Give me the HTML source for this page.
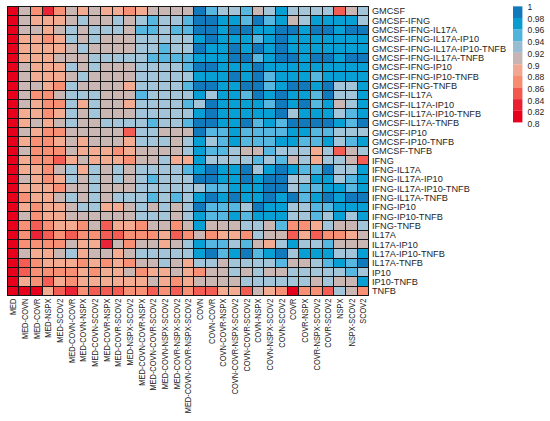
<!DOCTYPE html><html><head><meta charset="utf-8"><style>html,body{margin:0;padding:0;background:#fff;width:550px;height:421px;overflow:hidden}svg{display:block}text{font-family:"Liberation Sans",sans-serif}</style></head><body>
<svg width="550" height="421" viewBox="0 0 550 421">
<rect width="550" height="421" fill="#fff"/>
<g shape-rendering="auto">
<rect x="7.20" y="6.40" width="11.71" height="9.38" fill="#e7001c"/>
<rect x="18.86" y="6.40" width="11.71" height="9.38" fill="#cab7b4"/>
<rect x="30.53" y="6.40" width="11.71" height="9.38" fill="#f79074"/>
<rect x="42.20" y="6.40" width="11.71" height="9.38" fill="#eb2336"/>
<rect x="53.86" y="6.40" width="11.71" height="9.38" fill="#f79074"/>
<rect x="65.52" y="6.40" width="11.71" height="9.38" fill="#cab7b4"/>
<rect x="77.19" y="6.40" width="11.71" height="9.38" fill="#f3ab92"/>
<rect x="88.86" y="6.40" width="11.71" height="9.38" fill="#cab7b4"/>
<rect x="100.52" y="6.40" width="11.71" height="9.38" fill="#f3ab92"/>
<rect x="112.18" y="6.40" width="11.71" height="9.38" fill="#f3ab92"/>
<rect x="123.85" y="6.40" width="11.71" height="9.38" fill="#f79074"/>
<rect x="135.51" y="6.40" width="11.71" height="9.38" fill="#f3ab92"/>
<rect x="147.18" y="6.40" width="11.71" height="9.38" fill="#cab7b4"/>
<rect x="158.84" y="6.40" width="11.71" height="9.38" fill="#cab7b4"/>
<rect x="170.51" y="6.40" width="11.71" height="9.38" fill="#cab7b4"/>
<rect x="182.17" y="6.40" width="11.71" height="9.38" fill="#cab7b4"/>
<rect x="193.84" y="6.40" width="11.71" height="9.38" fill="#107abc"/>
<rect x="205.50" y="6.40" width="11.71" height="9.38" fill="#56b8e0"/>
<rect x="217.17" y="6.40" width="11.71" height="9.38" fill="#a2c5da"/>
<rect x="228.83" y="6.40" width="11.71" height="9.38" fill="#a2c5da"/>
<rect x="240.50" y="6.40" width="11.71" height="9.38" fill="#56b8e0"/>
<rect x="252.16" y="6.40" width="11.71" height="9.38" fill="#cab7b4"/>
<rect x="263.83" y="6.40" width="11.71" height="9.38" fill="#a2c5da"/>
<rect x="275.49" y="6.40" width="11.71" height="9.38" fill="#089fd4"/>
<rect x="287.16" y="6.40" width="11.71" height="9.38" fill="#a2c5da"/>
<rect x="298.82" y="6.40" width="11.71" height="9.38" fill="#a2c5da"/>
<rect x="310.49" y="6.40" width="11.71" height="9.38" fill="#a2c5da"/>
<rect x="322.15" y="6.40" width="11.71" height="9.38" fill="#a2c5da"/>
<rect x="333.82" y="6.40" width="11.71" height="9.38" fill="#f35d54"/>
<rect x="345.48" y="6.40" width="11.71" height="9.38" fill="#cab7b4"/>
<rect x="357.15" y="6.40" width="11.71" height="9.38" fill="#a2c5da"/>
<rect x="7.20" y="15.73" width="11.71" height="9.38" fill="#e7001c"/>
<rect x="18.86" y="15.73" width="11.71" height="9.38" fill="#cab7b4"/>
<rect x="30.53" y="15.73" width="11.71" height="9.38" fill="#f3ab92"/>
<rect x="42.20" y="15.73" width="11.71" height="9.38" fill="#f3ab92"/>
<rect x="53.86" y="15.73" width="11.71" height="9.38" fill="#f3ab92"/>
<rect x="65.52" y="15.73" width="11.71" height="9.38" fill="#cab7b4"/>
<rect x="77.19" y="15.73" width="11.71" height="9.38" fill="#a2c5da"/>
<rect x="88.86" y="15.73" width="11.71" height="9.38" fill="#cab7b4"/>
<rect x="100.52" y="15.73" width="11.71" height="9.38" fill="#cab7b4"/>
<rect x="112.18" y="15.73" width="11.71" height="9.38" fill="#a2c5da"/>
<rect x="123.85" y="15.73" width="11.71" height="9.38" fill="#cab7b4"/>
<rect x="135.51" y="15.73" width="11.71" height="9.38" fill="#a2c5da"/>
<rect x="147.18" y="15.73" width="11.71" height="9.38" fill="#56b8e0"/>
<rect x="158.84" y="15.73" width="11.71" height="9.38" fill="#a2c5da"/>
<rect x="170.51" y="15.73" width="11.71" height="9.38" fill="#a2c5da"/>
<rect x="182.17" y="15.73" width="11.71" height="9.38" fill="#56b8e0"/>
<rect x="193.84" y="15.73" width="11.71" height="9.38" fill="#107abc"/>
<rect x="205.50" y="15.73" width="11.71" height="9.38" fill="#107abc"/>
<rect x="217.17" y="15.73" width="11.71" height="9.38" fill="#089fd4"/>
<rect x="228.83" y="15.73" width="11.71" height="9.38" fill="#089fd4"/>
<rect x="240.50" y="15.73" width="11.71" height="9.38" fill="#56b8e0"/>
<rect x="252.16" y="15.73" width="11.71" height="9.38" fill="#107abc"/>
<rect x="263.83" y="15.73" width="11.71" height="9.38" fill="#56b8e0"/>
<rect x="275.49" y="15.73" width="11.71" height="9.38" fill="#089fd4"/>
<rect x="287.16" y="15.73" width="11.71" height="9.38" fill="#cab7b4"/>
<rect x="298.82" y="15.73" width="11.71" height="9.38" fill="#a2c5da"/>
<rect x="310.49" y="15.73" width="11.71" height="9.38" fill="#089fd4"/>
<rect x="322.15" y="15.73" width="11.71" height="9.38" fill="#089fd4"/>
<rect x="333.82" y="15.73" width="11.71" height="9.38" fill="#089fd4"/>
<rect x="345.48" y="15.73" width="11.71" height="9.38" fill="#089fd4"/>
<rect x="357.15" y="15.73" width="11.71" height="9.38" fill="#a2c5da"/>
<rect x="7.20" y="25.05" width="11.71" height="9.38" fill="#e7001c"/>
<rect x="18.86" y="25.05" width="11.71" height="9.38" fill="#cab7b4"/>
<rect x="30.53" y="25.05" width="11.71" height="9.38" fill="#cab7b4"/>
<rect x="42.20" y="25.05" width="11.71" height="9.38" fill="#f3ab92"/>
<rect x="53.86" y="25.05" width="11.71" height="9.38" fill="#cab7b4"/>
<rect x="65.52" y="25.05" width="11.71" height="9.38" fill="#a2c5da"/>
<rect x="77.19" y="25.05" width="11.71" height="9.38" fill="#cab7b4"/>
<rect x="88.86" y="25.05" width="11.71" height="9.38" fill="#a2c5da"/>
<rect x="100.52" y="25.05" width="11.71" height="9.38" fill="#a2c5da"/>
<rect x="112.18" y="25.05" width="11.71" height="9.38" fill="#a2c5da"/>
<rect x="123.85" y="25.05" width="11.71" height="9.38" fill="#cab7b4"/>
<rect x="135.51" y="25.05" width="11.71" height="9.38" fill="#56b8e0"/>
<rect x="147.18" y="25.05" width="11.71" height="9.38" fill="#56b8e0"/>
<rect x="158.84" y="25.05" width="11.71" height="9.38" fill="#a2c5da"/>
<rect x="170.51" y="25.05" width="11.71" height="9.38" fill="#56b8e0"/>
<rect x="182.17" y="25.05" width="11.71" height="9.38" fill="#56b8e0"/>
<rect x="193.84" y="25.05" width="11.71" height="9.38" fill="#107abc"/>
<rect x="205.50" y="25.05" width="11.71" height="9.38" fill="#107abc"/>
<rect x="217.17" y="25.05" width="11.71" height="9.38" fill="#089fd4"/>
<rect x="228.83" y="25.05" width="11.71" height="9.38" fill="#107abc"/>
<rect x="240.50" y="25.05" width="11.71" height="9.38" fill="#107abc"/>
<rect x="252.16" y="25.05" width="11.71" height="9.38" fill="#089fd4"/>
<rect x="263.83" y="25.05" width="11.71" height="9.38" fill="#089fd4"/>
<rect x="275.49" y="25.05" width="11.71" height="9.38" fill="#107abc"/>
<rect x="287.16" y="25.05" width="11.71" height="9.38" fill="#107abc"/>
<rect x="298.82" y="25.05" width="11.71" height="9.38" fill="#089fd4"/>
<rect x="310.49" y="25.05" width="11.71" height="9.38" fill="#107abc"/>
<rect x="322.15" y="25.05" width="11.71" height="9.38" fill="#107abc"/>
<rect x="333.82" y="25.05" width="11.71" height="9.38" fill="#089fd4"/>
<rect x="345.48" y="25.05" width="11.71" height="9.38" fill="#107abc"/>
<rect x="357.15" y="25.05" width="11.71" height="9.38" fill="#107abc"/>
<rect x="7.20" y="34.38" width="11.71" height="9.38" fill="#e7001c"/>
<rect x="18.86" y="34.38" width="11.71" height="9.38" fill="#f3ab92"/>
<rect x="30.53" y="34.38" width="11.71" height="9.38" fill="#f3ab92"/>
<rect x="42.20" y="34.38" width="11.71" height="9.38" fill="#f79074"/>
<rect x="53.86" y="34.38" width="11.71" height="9.38" fill="#f3ab92"/>
<rect x="65.52" y="34.38" width="11.71" height="9.38" fill="#a2c5da"/>
<rect x="77.19" y="34.38" width="11.71" height="9.38" fill="#cab7b4"/>
<rect x="88.86" y="34.38" width="11.71" height="9.38" fill="#a2c5da"/>
<rect x="100.52" y="34.38" width="11.71" height="9.38" fill="#cab7b4"/>
<rect x="112.18" y="34.38" width="11.71" height="9.38" fill="#cab7b4"/>
<rect x="123.85" y="34.38" width="11.71" height="9.38" fill="#cab7b4"/>
<rect x="135.51" y="34.38" width="11.71" height="9.38" fill="#a2c5da"/>
<rect x="147.18" y="34.38" width="11.71" height="9.38" fill="#a2c5da"/>
<rect x="158.84" y="34.38" width="11.71" height="9.38" fill="#a2c5da"/>
<rect x="170.51" y="34.38" width="11.71" height="9.38" fill="#a2c5da"/>
<rect x="182.17" y="34.38" width="11.71" height="9.38" fill="#a2c5da"/>
<rect x="193.84" y="34.38" width="11.71" height="9.38" fill="#089fd4"/>
<rect x="205.50" y="34.38" width="11.71" height="9.38" fill="#107abc"/>
<rect x="217.17" y="34.38" width="11.71" height="9.38" fill="#089fd4"/>
<rect x="228.83" y="34.38" width="11.71" height="9.38" fill="#089fd4"/>
<rect x="240.50" y="34.38" width="11.71" height="9.38" fill="#089fd4"/>
<rect x="252.16" y="34.38" width="11.71" height="9.38" fill="#56b8e0"/>
<rect x="263.83" y="34.38" width="11.71" height="9.38" fill="#089fd4"/>
<rect x="275.49" y="34.38" width="11.71" height="9.38" fill="#107abc"/>
<rect x="287.16" y="34.38" width="11.71" height="9.38" fill="#089fd4"/>
<rect x="298.82" y="34.38" width="11.71" height="9.38" fill="#089fd4"/>
<rect x="310.49" y="34.38" width="11.71" height="9.38" fill="#089fd4"/>
<rect x="322.15" y="34.38" width="11.71" height="9.38" fill="#089fd4"/>
<rect x="333.82" y="34.38" width="11.71" height="9.38" fill="#089fd4"/>
<rect x="345.48" y="34.38" width="11.71" height="9.38" fill="#089fd4"/>
<rect x="357.15" y="34.38" width="11.71" height="9.38" fill="#089fd4"/>
<rect x="7.20" y="43.70" width="11.71" height="9.38" fill="#e7001c"/>
<rect x="18.86" y="43.70" width="11.71" height="9.38" fill="#f3ab92"/>
<rect x="30.53" y="43.70" width="11.71" height="9.38" fill="#f3ab92"/>
<rect x="42.20" y="43.70" width="11.71" height="9.38" fill="#f3ab92"/>
<rect x="53.86" y="43.70" width="11.71" height="9.38" fill="#f3ab92"/>
<rect x="65.52" y="43.70" width="11.71" height="9.38" fill="#cab7b4"/>
<rect x="77.19" y="43.70" width="11.71" height="9.38" fill="#a2c5da"/>
<rect x="88.86" y="43.70" width="11.71" height="9.38" fill="#cab7b4"/>
<rect x="100.52" y="43.70" width="11.71" height="9.38" fill="#cab7b4"/>
<rect x="112.18" y="43.70" width="11.71" height="9.38" fill="#cab7b4"/>
<rect x="123.85" y="43.70" width="11.71" height="9.38" fill="#cab7b4"/>
<rect x="135.51" y="43.70" width="11.71" height="9.38" fill="#a2c5da"/>
<rect x="147.18" y="43.70" width="11.71" height="9.38" fill="#a2c5da"/>
<rect x="158.84" y="43.70" width="11.71" height="9.38" fill="#56b8e0"/>
<rect x="170.51" y="43.70" width="11.71" height="9.38" fill="#a2c5da"/>
<rect x="182.17" y="43.70" width="11.71" height="9.38" fill="#a2c5da"/>
<rect x="193.84" y="43.70" width="11.71" height="9.38" fill="#107abc"/>
<rect x="205.50" y="43.70" width="11.71" height="9.38" fill="#089fd4"/>
<rect x="217.17" y="43.70" width="11.71" height="9.38" fill="#089fd4"/>
<rect x="228.83" y="43.70" width="11.71" height="9.38" fill="#107abc"/>
<rect x="240.50" y="43.70" width="11.71" height="9.38" fill="#089fd4"/>
<rect x="252.16" y="43.70" width="11.71" height="9.38" fill="#107abc"/>
<rect x="263.83" y="43.70" width="11.71" height="9.38" fill="#089fd4"/>
<rect x="275.49" y="43.70" width="11.71" height="9.38" fill="#107abc"/>
<rect x="287.16" y="43.70" width="11.71" height="9.38" fill="#089fd4"/>
<rect x="298.82" y="43.70" width="11.71" height="9.38" fill="#089fd4"/>
<rect x="310.49" y="43.70" width="11.71" height="9.38" fill="#089fd4"/>
<rect x="322.15" y="43.70" width="11.71" height="9.38" fill="#089fd4"/>
<rect x="333.82" y="43.70" width="11.71" height="9.38" fill="#089fd4"/>
<rect x="345.48" y="43.70" width="11.71" height="9.38" fill="#089fd4"/>
<rect x="357.15" y="43.70" width="11.71" height="9.38" fill="#089fd4"/>
<rect x="7.20" y="53.03" width="11.71" height="9.38" fill="#e7001c"/>
<rect x="18.86" y="53.03" width="11.71" height="9.38" fill="#f3ab92"/>
<rect x="30.53" y="53.03" width="11.71" height="9.38" fill="#f3ab92"/>
<rect x="42.20" y="53.03" width="11.71" height="9.38" fill="#f3ab92"/>
<rect x="53.86" y="53.03" width="11.71" height="9.38" fill="#cab7b4"/>
<rect x="65.52" y="53.03" width="11.71" height="9.38" fill="#cab7b4"/>
<rect x="77.19" y="53.03" width="11.71" height="9.38" fill="#cab7b4"/>
<rect x="88.86" y="53.03" width="11.71" height="9.38" fill="#a2c5da"/>
<rect x="100.52" y="53.03" width="11.71" height="9.38" fill="#a2c5da"/>
<rect x="112.18" y="53.03" width="11.71" height="9.38" fill="#a2c5da"/>
<rect x="123.85" y="53.03" width="11.71" height="9.38" fill="#a2c5da"/>
<rect x="135.51" y="53.03" width="11.71" height="9.38" fill="#a2c5da"/>
<rect x="147.18" y="53.03" width="11.71" height="9.38" fill="#56b8e0"/>
<rect x="158.84" y="53.03" width="11.71" height="9.38" fill="#56b8e0"/>
<rect x="170.51" y="53.03" width="11.71" height="9.38" fill="#56b8e0"/>
<rect x="182.17" y="53.03" width="11.71" height="9.38" fill="#56b8e0"/>
<rect x="193.84" y="53.03" width="11.71" height="9.38" fill="#089fd4"/>
<rect x="205.50" y="53.03" width="11.71" height="9.38" fill="#089fd4"/>
<rect x="217.17" y="53.03" width="11.71" height="9.38" fill="#089fd4"/>
<rect x="228.83" y="53.03" width="11.71" height="9.38" fill="#107abc"/>
<rect x="240.50" y="53.03" width="11.71" height="9.38" fill="#107abc"/>
<rect x="252.16" y="53.03" width="11.71" height="9.38" fill="#56b8e0"/>
<rect x="263.83" y="53.03" width="11.71" height="9.38" fill="#089fd4"/>
<rect x="275.49" y="53.03" width="11.71" height="9.38" fill="#107abc"/>
<rect x="287.16" y="53.03" width="11.71" height="9.38" fill="#107abc"/>
<rect x="298.82" y="53.03" width="11.71" height="9.38" fill="#089fd4"/>
<rect x="310.49" y="53.03" width="11.71" height="9.38" fill="#107abc"/>
<rect x="322.15" y="53.03" width="11.71" height="9.38" fill="#107abc"/>
<rect x="333.82" y="53.03" width="11.71" height="9.38" fill="#089fd4"/>
<rect x="345.48" y="53.03" width="11.71" height="9.38" fill="#107abc"/>
<rect x="357.15" y="53.03" width="11.71" height="9.38" fill="#107abc"/>
<rect x="7.20" y="62.36" width="11.71" height="9.38" fill="#e7001c"/>
<rect x="18.86" y="62.36" width="11.71" height="9.38" fill="#cab7b4"/>
<rect x="30.53" y="62.36" width="11.71" height="9.38" fill="#f3ab92"/>
<rect x="42.20" y="62.36" width="11.71" height="9.38" fill="#f3ab92"/>
<rect x="53.86" y="62.36" width="11.71" height="9.38" fill="#f3ab92"/>
<rect x="65.52" y="62.36" width="11.71" height="9.38" fill="#a2c5da"/>
<rect x="77.19" y="62.36" width="11.71" height="9.38" fill="#cab7b4"/>
<rect x="88.86" y="62.36" width="11.71" height="9.38" fill="#a2c5da"/>
<rect x="100.52" y="62.36" width="11.71" height="9.38" fill="#cab7b4"/>
<rect x="112.18" y="62.36" width="11.71" height="9.38" fill="#cab7b4"/>
<rect x="123.85" y="62.36" width="11.71" height="9.38" fill="#cab7b4"/>
<rect x="135.51" y="62.36" width="11.71" height="9.38" fill="#a2c5da"/>
<rect x="147.18" y="62.36" width="11.71" height="9.38" fill="#a2c5da"/>
<rect x="158.84" y="62.36" width="11.71" height="9.38" fill="#a2c5da"/>
<rect x="170.51" y="62.36" width="11.71" height="9.38" fill="#a2c5da"/>
<rect x="182.17" y="62.36" width="11.71" height="9.38" fill="#56b8e0"/>
<rect x="193.84" y="62.36" width="11.71" height="9.38" fill="#107abc"/>
<rect x="205.50" y="62.36" width="11.71" height="9.38" fill="#107abc"/>
<rect x="217.17" y="62.36" width="11.71" height="9.38" fill="#089fd4"/>
<rect x="228.83" y="62.36" width="11.71" height="9.38" fill="#089fd4"/>
<rect x="240.50" y="62.36" width="11.71" height="9.38" fill="#089fd4"/>
<rect x="252.16" y="62.36" width="11.71" height="9.38" fill="#107abc"/>
<rect x="263.83" y="62.36" width="11.71" height="9.38" fill="#089fd4"/>
<rect x="275.49" y="62.36" width="11.71" height="9.38" fill="#089fd4"/>
<rect x="287.16" y="62.36" width="11.71" height="9.38" fill="#089fd4"/>
<rect x="298.82" y="62.36" width="11.71" height="9.38" fill="#089fd4"/>
<rect x="310.49" y="62.36" width="11.71" height="9.38" fill="#089fd4"/>
<rect x="322.15" y="62.36" width="11.71" height="9.38" fill="#089fd4"/>
<rect x="333.82" y="62.36" width="11.71" height="9.38" fill="#089fd4"/>
<rect x="345.48" y="62.36" width="11.71" height="9.38" fill="#089fd4"/>
<rect x="357.15" y="62.36" width="11.71" height="9.38" fill="#089fd4"/>
<rect x="7.20" y="71.68" width="11.71" height="9.38" fill="#e7001c"/>
<rect x="18.86" y="71.68" width="11.71" height="9.38" fill="#cab7b4"/>
<rect x="30.53" y="71.68" width="11.71" height="9.38" fill="#f3ab92"/>
<rect x="42.20" y="71.68" width="11.71" height="9.38" fill="#f3ab92"/>
<rect x="53.86" y="71.68" width="11.71" height="9.38" fill="#f3ab92"/>
<rect x="65.52" y="71.68" width="11.71" height="9.38" fill="#cab7b4"/>
<rect x="77.19" y="71.68" width="11.71" height="9.38" fill="#a2c5da"/>
<rect x="88.86" y="71.68" width="11.71" height="9.38" fill="#cab7b4"/>
<rect x="100.52" y="71.68" width="11.71" height="9.38" fill="#cab7b4"/>
<rect x="112.18" y="71.68" width="11.71" height="9.38" fill="#cab7b4"/>
<rect x="123.85" y="71.68" width="11.71" height="9.38" fill="#cab7b4"/>
<rect x="135.51" y="71.68" width="11.71" height="9.38" fill="#a2c5da"/>
<rect x="147.18" y="71.68" width="11.71" height="9.38" fill="#a2c5da"/>
<rect x="158.84" y="71.68" width="11.71" height="9.38" fill="#a2c5da"/>
<rect x="170.51" y="71.68" width="11.71" height="9.38" fill="#a2c5da"/>
<rect x="182.17" y="71.68" width="11.71" height="9.38" fill="#a2c5da"/>
<rect x="193.84" y="71.68" width="11.71" height="9.38" fill="#089fd4"/>
<rect x="205.50" y="71.68" width="11.71" height="9.38" fill="#089fd4"/>
<rect x="217.17" y="71.68" width="11.71" height="9.38" fill="#089fd4"/>
<rect x="228.83" y="71.68" width="11.71" height="9.38" fill="#107abc"/>
<rect x="240.50" y="71.68" width="11.71" height="9.38" fill="#089fd4"/>
<rect x="252.16" y="71.68" width="11.71" height="9.38" fill="#107abc"/>
<rect x="263.83" y="71.68" width="11.71" height="9.38" fill="#56b8e0"/>
<rect x="275.49" y="71.68" width="11.71" height="9.38" fill="#089fd4"/>
<rect x="287.16" y="71.68" width="11.71" height="9.38" fill="#089fd4"/>
<rect x="298.82" y="71.68" width="11.71" height="9.38" fill="#089fd4"/>
<rect x="310.49" y="71.68" width="11.71" height="9.38" fill="#56b8e0"/>
<rect x="322.15" y="71.68" width="11.71" height="9.38" fill="#089fd4"/>
<rect x="333.82" y="71.68" width="11.71" height="9.38" fill="#089fd4"/>
<rect x="345.48" y="71.68" width="11.71" height="9.38" fill="#089fd4"/>
<rect x="357.15" y="71.68" width="11.71" height="9.38" fill="#089fd4"/>
<rect x="7.20" y="81.01" width="11.71" height="9.38" fill="#e7001c"/>
<rect x="18.86" y="81.01" width="11.71" height="9.38" fill="#cab7b4"/>
<rect x="30.53" y="81.01" width="11.71" height="9.38" fill="#cab7b4"/>
<rect x="42.20" y="81.01" width="11.71" height="9.38" fill="#f3ab92"/>
<rect x="53.86" y="81.01" width="11.71" height="9.38" fill="#f79074"/>
<rect x="65.52" y="81.01" width="11.71" height="9.38" fill="#a2c5da"/>
<rect x="77.19" y="81.01" width="11.71" height="9.38" fill="#cab7b4"/>
<rect x="88.86" y="81.01" width="11.71" height="9.38" fill="#cab7b4"/>
<rect x="100.52" y="81.01" width="11.71" height="9.38" fill="#cab7b4"/>
<rect x="112.18" y="81.01" width="11.71" height="9.38" fill="#cab7b4"/>
<rect x="123.85" y="81.01" width="11.71" height="9.38" fill="#f3ab92"/>
<rect x="135.51" y="81.01" width="11.71" height="9.38" fill="#a2c5da"/>
<rect x="147.18" y="81.01" width="11.71" height="9.38" fill="#a2c5da"/>
<rect x="158.84" y="81.01" width="11.71" height="9.38" fill="#a2c5da"/>
<rect x="170.51" y="81.01" width="11.71" height="9.38" fill="#a2c5da"/>
<rect x="182.17" y="81.01" width="11.71" height="9.38" fill="#56b8e0"/>
<rect x="193.84" y="81.01" width="11.71" height="9.38" fill="#107abc"/>
<rect x="205.50" y="81.01" width="11.71" height="9.38" fill="#107abc"/>
<rect x="217.17" y="81.01" width="11.71" height="9.38" fill="#089fd4"/>
<rect x="228.83" y="81.01" width="11.71" height="9.38" fill="#089fd4"/>
<rect x="240.50" y="81.01" width="11.71" height="9.38" fill="#107abc"/>
<rect x="252.16" y="81.01" width="11.71" height="9.38" fill="#107abc"/>
<rect x="263.83" y="81.01" width="11.71" height="9.38" fill="#56b8e0"/>
<rect x="275.49" y="81.01" width="11.71" height="9.38" fill="#089fd4"/>
<rect x="287.16" y="81.01" width="11.71" height="9.38" fill="#107abc"/>
<rect x="298.82" y="81.01" width="11.71" height="9.38" fill="#107abc"/>
<rect x="310.49" y="81.01" width="11.71" height="9.38" fill="#089fd4"/>
<rect x="322.15" y="81.01" width="11.71" height="9.38" fill="#107abc"/>
<rect x="333.82" y="81.01" width="11.71" height="9.38" fill="#a2c5da"/>
<rect x="345.48" y="81.01" width="11.71" height="9.38" fill="#a2c5da"/>
<rect x="357.15" y="81.01" width="11.71" height="9.38" fill="#089fd4"/>
<rect x="7.20" y="90.33" width="11.71" height="9.38" fill="#e7001c"/>
<rect x="18.86" y="90.33" width="11.71" height="9.38" fill="#cab7b4"/>
<rect x="30.53" y="90.33" width="11.71" height="9.38" fill="#f79074"/>
<rect x="42.20" y="90.33" width="11.71" height="9.38" fill="#f79074"/>
<rect x="53.86" y="90.33" width="11.71" height="9.38" fill="#cab7b4"/>
<rect x="65.52" y="90.33" width="11.71" height="9.38" fill="#a2c5da"/>
<rect x="77.19" y="90.33" width="11.71" height="9.38" fill="#a2c5da"/>
<rect x="88.86" y="90.33" width="11.71" height="9.38" fill="#a2c5da"/>
<rect x="100.52" y="90.33" width="11.71" height="9.38" fill="#cab7b4"/>
<rect x="112.18" y="90.33" width="11.71" height="9.38" fill="#cab7b4"/>
<rect x="123.85" y="90.33" width="11.71" height="9.38" fill="#cab7b4"/>
<rect x="135.51" y="90.33" width="11.71" height="9.38" fill="#56b8e0"/>
<rect x="147.18" y="90.33" width="11.71" height="9.38" fill="#a2c5da"/>
<rect x="158.84" y="90.33" width="11.71" height="9.38" fill="#a2c5da"/>
<rect x="170.51" y="90.33" width="11.71" height="9.38" fill="#a2c5da"/>
<rect x="182.17" y="90.33" width="11.71" height="9.38" fill="#a2c5da"/>
<rect x="193.84" y="90.33" width="11.71" height="9.38" fill="#089fd4"/>
<rect x="205.50" y="90.33" width="11.71" height="9.38" fill="#a2c5da"/>
<rect x="217.17" y="90.33" width="11.71" height="9.38" fill="#089fd4"/>
<rect x="228.83" y="90.33" width="11.71" height="9.38" fill="#089fd4"/>
<rect x="240.50" y="90.33" width="11.71" height="9.38" fill="#56b8e0"/>
<rect x="252.16" y="90.33" width="11.71" height="9.38" fill="#107abc"/>
<rect x="263.83" y="90.33" width="11.71" height="9.38" fill="#089fd4"/>
<rect x="275.49" y="90.33" width="11.71" height="9.38" fill="#107abc"/>
<rect x="287.16" y="90.33" width="11.71" height="9.38" fill="#089fd4"/>
<rect x="298.82" y="90.33" width="11.71" height="9.38" fill="#089fd4"/>
<rect x="310.49" y="90.33" width="11.71" height="9.38" fill="#56b8e0"/>
<rect x="322.15" y="90.33" width="11.71" height="9.38" fill="#107abc"/>
<rect x="333.82" y="90.33" width="11.71" height="9.38" fill="#a2c5da"/>
<rect x="345.48" y="90.33" width="11.71" height="9.38" fill="#a2c5da"/>
<rect x="357.15" y="90.33" width="11.71" height="9.38" fill="#089fd4"/>
<rect x="7.20" y="99.66" width="11.71" height="9.38" fill="#e7001c"/>
<rect x="18.86" y="99.66" width="11.71" height="9.38" fill="#cab7b4"/>
<rect x="30.53" y="99.66" width="11.71" height="9.38" fill="#f3ab92"/>
<rect x="42.20" y="99.66" width="11.71" height="9.38" fill="#f79074"/>
<rect x="53.86" y="99.66" width="11.71" height="9.38" fill="#f79074"/>
<rect x="65.52" y="99.66" width="11.71" height="9.38" fill="#a2c5da"/>
<rect x="77.19" y="99.66" width="11.71" height="9.38" fill="#f3ab92"/>
<rect x="88.86" y="99.66" width="11.71" height="9.38" fill="#a2c5da"/>
<rect x="100.52" y="99.66" width="11.71" height="9.38" fill="#cab7b4"/>
<rect x="112.18" y="99.66" width="11.71" height="9.38" fill="#cab7b4"/>
<rect x="123.85" y="99.66" width="11.71" height="9.38" fill="#f3ab92"/>
<rect x="135.51" y="99.66" width="11.71" height="9.38" fill="#a2c5da"/>
<rect x="147.18" y="99.66" width="11.71" height="9.38" fill="#a2c5da"/>
<rect x="158.84" y="99.66" width="11.71" height="9.38" fill="#a2c5da"/>
<rect x="170.51" y="99.66" width="11.71" height="9.38" fill="#a2c5da"/>
<rect x="182.17" y="99.66" width="11.71" height="9.38" fill="#56b8e0"/>
<rect x="193.84" y="99.66" width="11.71" height="9.38" fill="#a2c5da"/>
<rect x="205.50" y="99.66" width="11.71" height="9.38" fill="#107abc"/>
<rect x="217.17" y="99.66" width="11.71" height="9.38" fill="#089fd4"/>
<rect x="228.83" y="99.66" width="11.71" height="9.38" fill="#089fd4"/>
<rect x="240.50" y="99.66" width="11.71" height="9.38" fill="#089fd4"/>
<rect x="252.16" y="99.66" width="11.71" height="9.38" fill="#089fd4"/>
<rect x="263.83" y="99.66" width="11.71" height="9.38" fill="#56b8e0"/>
<rect x="275.49" y="99.66" width="11.71" height="9.38" fill="#107abc"/>
<rect x="287.16" y="99.66" width="11.71" height="9.38" fill="#089fd4"/>
<rect x="298.82" y="99.66" width="11.71" height="9.38" fill="#107abc"/>
<rect x="310.49" y="99.66" width="11.71" height="9.38" fill="#56b8e0"/>
<rect x="322.15" y="99.66" width="11.71" height="9.38" fill="#089fd4"/>
<rect x="333.82" y="99.66" width="11.71" height="9.38" fill="#cab7b4"/>
<rect x="345.48" y="99.66" width="11.71" height="9.38" fill="#a2c5da"/>
<rect x="357.15" y="99.66" width="11.71" height="9.38" fill="#089fd4"/>
<rect x="7.20" y="108.99" width="11.71" height="9.38" fill="#e7001c"/>
<rect x="18.86" y="108.99" width="11.71" height="9.38" fill="#f3ab92"/>
<rect x="30.53" y="108.99" width="11.71" height="9.38" fill="#f3ab92"/>
<rect x="42.20" y="108.99" width="11.71" height="9.38" fill="#f79074"/>
<rect x="53.86" y="108.99" width="11.71" height="9.38" fill="#f3ab92"/>
<rect x="65.52" y="108.99" width="11.71" height="9.38" fill="#a2c5da"/>
<rect x="77.19" y="108.99" width="11.71" height="9.38" fill="#cab7b4"/>
<rect x="88.86" y="108.99" width="11.71" height="9.38" fill="#a2c5da"/>
<rect x="100.52" y="108.99" width="11.71" height="9.38" fill="#cab7b4"/>
<rect x="112.18" y="108.99" width="11.71" height="9.38" fill="#cab7b4"/>
<rect x="123.85" y="108.99" width="11.71" height="9.38" fill="#cab7b4"/>
<rect x="135.51" y="108.99" width="11.71" height="9.38" fill="#a2c5da"/>
<rect x="147.18" y="108.99" width="11.71" height="9.38" fill="#a2c5da"/>
<rect x="158.84" y="108.99" width="11.71" height="9.38" fill="#a2c5da"/>
<rect x="170.51" y="108.99" width="11.71" height="9.38" fill="#a2c5da"/>
<rect x="182.17" y="108.99" width="11.71" height="9.38" fill="#a2c5da"/>
<rect x="193.84" y="108.99" width="11.71" height="9.38" fill="#089fd4"/>
<rect x="205.50" y="108.99" width="11.71" height="9.38" fill="#107abc"/>
<rect x="217.17" y="108.99" width="11.71" height="9.38" fill="#089fd4"/>
<rect x="228.83" y="108.99" width="11.71" height="9.38" fill="#089fd4"/>
<rect x="240.50" y="108.99" width="11.71" height="9.38" fill="#089fd4"/>
<rect x="252.16" y="108.99" width="11.71" height="9.38" fill="#089fd4"/>
<rect x="263.83" y="108.99" width="11.71" height="9.38" fill="#089fd4"/>
<rect x="275.49" y="108.99" width="11.71" height="9.38" fill="#107abc"/>
<rect x="287.16" y="108.99" width="11.71" height="9.38" fill="#a2c5da"/>
<rect x="298.82" y="108.99" width="11.71" height="9.38" fill="#089fd4"/>
<rect x="310.49" y="108.99" width="11.71" height="9.38" fill="#089fd4"/>
<rect x="322.15" y="108.99" width="11.71" height="9.38" fill="#089fd4"/>
<rect x="333.82" y="108.99" width="11.71" height="9.38" fill="#a2c5da"/>
<rect x="345.48" y="108.99" width="11.71" height="9.38" fill="#56b8e0"/>
<rect x="357.15" y="108.99" width="11.71" height="9.38" fill="#089fd4"/>
<rect x="7.20" y="118.31" width="11.71" height="9.38" fill="#e7001c"/>
<rect x="18.86" y="118.31" width="11.71" height="9.38" fill="#f3ab92"/>
<rect x="30.53" y="118.31" width="11.71" height="9.38" fill="#cab7b4"/>
<rect x="42.20" y="118.31" width="11.71" height="9.38" fill="#f3ab92"/>
<rect x="53.86" y="118.31" width="11.71" height="9.38" fill="#cab7b4"/>
<rect x="65.52" y="118.31" width="11.71" height="9.38" fill="#a2c5da"/>
<rect x="77.19" y="118.31" width="11.71" height="9.38" fill="#cab7b4"/>
<rect x="88.86" y="118.31" width="11.71" height="9.38" fill="#cab7b4"/>
<rect x="100.52" y="118.31" width="11.71" height="9.38" fill="#a2c5da"/>
<rect x="112.18" y="118.31" width="11.71" height="9.38" fill="#a2c5da"/>
<rect x="123.85" y="118.31" width="11.71" height="9.38" fill="#a2c5da"/>
<rect x="135.51" y="118.31" width="11.71" height="9.38" fill="#a2c5da"/>
<rect x="147.18" y="118.31" width="11.71" height="9.38" fill="#56b8e0"/>
<rect x="158.84" y="118.31" width="11.71" height="9.38" fill="#a2c5da"/>
<rect x="170.51" y="118.31" width="11.71" height="9.38" fill="#a2c5da"/>
<rect x="182.17" y="118.31" width="11.71" height="9.38" fill="#56b8e0"/>
<rect x="193.84" y="118.31" width="11.71" height="9.38" fill="#107abc"/>
<rect x="205.50" y="118.31" width="11.71" height="9.38" fill="#107abc"/>
<rect x="217.17" y="118.31" width="11.71" height="9.38" fill="#089fd4"/>
<rect x="228.83" y="118.31" width="11.71" height="9.38" fill="#089fd4"/>
<rect x="240.50" y="118.31" width="11.71" height="9.38" fill="#107abc"/>
<rect x="252.16" y="118.31" width="11.71" height="9.38" fill="#56b8e0"/>
<rect x="263.83" y="118.31" width="11.71" height="9.38" fill="#089fd4"/>
<rect x="275.49" y="118.31" width="11.71" height="9.38" fill="#56b8e0"/>
<rect x="287.16" y="118.31" width="11.71" height="9.38" fill="#107abc"/>
<rect x="298.82" y="118.31" width="11.71" height="9.38" fill="#107abc"/>
<rect x="310.49" y="118.31" width="11.71" height="9.38" fill="#107abc"/>
<rect x="322.15" y="118.31" width="11.71" height="9.38" fill="#107abc"/>
<rect x="333.82" y="118.31" width="11.71" height="9.38" fill="#089fd4"/>
<rect x="345.48" y="118.31" width="11.71" height="9.38" fill="#56b8e0"/>
<rect x="357.15" y="118.31" width="11.71" height="9.38" fill="#107abc"/>
<rect x="7.20" y="127.64" width="11.71" height="9.38" fill="#e7001c"/>
<rect x="18.86" y="127.64" width="11.71" height="9.38" fill="#cab7b4"/>
<rect x="30.53" y="127.64" width="11.71" height="9.38" fill="#f3ab92"/>
<rect x="42.20" y="127.64" width="11.71" height="9.38" fill="#f79074"/>
<rect x="53.86" y="127.64" width="11.71" height="9.38" fill="#f79074"/>
<rect x="65.52" y="127.64" width="11.71" height="9.38" fill="#cab7b4"/>
<rect x="77.19" y="127.64" width="11.71" height="9.38" fill="#cab7b4"/>
<rect x="88.86" y="127.64" width="11.71" height="9.38" fill="#cab7b4"/>
<rect x="100.52" y="127.64" width="11.71" height="9.38" fill="#cab7b4"/>
<rect x="112.18" y="127.64" width="11.71" height="9.38" fill="#cab7b4"/>
<rect x="123.85" y="127.64" width="11.71" height="9.38" fill="#f35d54"/>
<rect x="135.51" y="127.64" width="11.71" height="9.38" fill="#a2c5da"/>
<rect x="147.18" y="127.64" width="11.71" height="9.38" fill="#a2c5da"/>
<rect x="158.84" y="127.64" width="11.71" height="9.38" fill="#cab7b4"/>
<rect x="170.51" y="127.64" width="11.71" height="9.38" fill="#cab7b4"/>
<rect x="182.17" y="127.64" width="11.71" height="9.38" fill="#cab7b4"/>
<rect x="193.84" y="127.64" width="11.71" height="9.38" fill="#107abc"/>
<rect x="205.50" y="127.64" width="11.71" height="9.38" fill="#56b8e0"/>
<rect x="217.17" y="127.64" width="11.71" height="9.38" fill="#56b8e0"/>
<rect x="228.83" y="127.64" width="11.71" height="9.38" fill="#089fd4"/>
<rect x="240.50" y="127.64" width="11.71" height="9.38" fill="#56b8e0"/>
<rect x="252.16" y="127.64" width="11.71" height="9.38" fill="#56b8e0"/>
<rect x="263.83" y="127.64" width="11.71" height="9.38" fill="#56b8e0"/>
<rect x="275.49" y="127.64" width="11.71" height="9.38" fill="#56b8e0"/>
<rect x="287.16" y="127.64" width="11.71" height="9.38" fill="#089fd4"/>
<rect x="298.82" y="127.64" width="11.71" height="9.38" fill="#089fd4"/>
<rect x="310.49" y="127.64" width="11.71" height="9.38" fill="#56b8e0"/>
<rect x="322.15" y="127.64" width="11.71" height="9.38" fill="#56b8e0"/>
<rect x="333.82" y="127.64" width="11.71" height="9.38" fill="#a2c5da"/>
<rect x="345.48" y="127.64" width="11.71" height="9.38" fill="#a2c5da"/>
<rect x="357.15" y="127.64" width="11.71" height="9.38" fill="#a2c5da"/>
<rect x="7.20" y="136.96" width="11.71" height="9.38" fill="#e7001c"/>
<rect x="18.86" y="136.96" width="11.71" height="9.38" fill="#f3ab92"/>
<rect x="30.53" y="136.96" width="11.71" height="9.38" fill="#f79074"/>
<rect x="42.20" y="136.96" width="11.71" height="9.38" fill="#f79074"/>
<rect x="53.86" y="136.96" width="11.71" height="9.38" fill="#f3ab92"/>
<rect x="65.52" y="136.96" width="11.71" height="9.38" fill="#cab7b4"/>
<rect x="77.19" y="136.96" width="11.71" height="9.38" fill="#f3ab92"/>
<rect x="88.86" y="136.96" width="11.71" height="9.38" fill="#cab7b4"/>
<rect x="100.52" y="136.96" width="11.71" height="9.38" fill="#cab7b4"/>
<rect x="112.18" y="136.96" width="11.71" height="9.38" fill="#cab7b4"/>
<rect x="123.85" y="136.96" width="11.71" height="9.38" fill="#f3ab92"/>
<rect x="135.51" y="136.96" width="11.71" height="9.38" fill="#a2c5da"/>
<rect x="147.18" y="136.96" width="11.71" height="9.38" fill="#a2c5da"/>
<rect x="158.84" y="136.96" width="11.71" height="9.38" fill="#a2c5da"/>
<rect x="170.51" y="136.96" width="11.71" height="9.38" fill="#cab7b4"/>
<rect x="182.17" y="136.96" width="11.71" height="9.38" fill="#a2c5da"/>
<rect x="193.84" y="136.96" width="11.71" height="9.38" fill="#089fd4"/>
<rect x="205.50" y="136.96" width="11.71" height="9.38" fill="#a2c5da"/>
<rect x="217.17" y="136.96" width="11.71" height="9.38" fill="#56b8e0"/>
<rect x="228.83" y="136.96" width="11.71" height="9.38" fill="#089fd4"/>
<rect x="240.50" y="136.96" width="11.71" height="9.38" fill="#56b8e0"/>
<rect x="252.16" y="136.96" width="11.71" height="9.38" fill="#56b8e0"/>
<rect x="263.83" y="136.96" width="11.71" height="9.38" fill="#56b8e0"/>
<rect x="275.49" y="136.96" width="11.71" height="9.38" fill="#089fd4"/>
<rect x="287.16" y="136.96" width="11.71" height="9.38" fill="#089fd4"/>
<rect x="298.82" y="136.96" width="11.71" height="9.38" fill="#56b8e0"/>
<rect x="310.49" y="136.96" width="11.71" height="9.38" fill="#56b8e0"/>
<rect x="322.15" y="136.96" width="11.71" height="9.38" fill="#089fd4"/>
<rect x="333.82" y="136.96" width="11.71" height="9.38" fill="#a2c5da"/>
<rect x="345.48" y="136.96" width="11.71" height="9.38" fill="#56b8e0"/>
<rect x="357.15" y="136.96" width="11.71" height="9.38" fill="#089fd4"/>
<rect x="7.20" y="146.29" width="11.71" height="9.38" fill="#e7001c"/>
<rect x="18.86" y="146.29" width="11.71" height="9.38" fill="#cab7b4"/>
<rect x="30.53" y="146.29" width="11.71" height="9.38" fill="#f79074"/>
<rect x="42.20" y="146.29" width="11.71" height="9.38" fill="#f79074"/>
<rect x="53.86" y="146.29" width="11.71" height="9.38" fill="#f79074"/>
<rect x="65.52" y="146.29" width="11.71" height="9.38" fill="#cab7b4"/>
<rect x="77.19" y="146.29" width="11.71" height="9.38" fill="#f3ab92"/>
<rect x="88.86" y="146.29" width="11.71" height="9.38" fill="#f3ab92"/>
<rect x="100.52" y="146.29" width="11.71" height="9.38" fill="#f3ab92"/>
<rect x="112.18" y="146.29" width="11.71" height="9.38" fill="#f79074"/>
<rect x="123.85" y="146.29" width="11.71" height="9.38" fill="#f3ab92"/>
<rect x="135.51" y="146.29" width="11.71" height="9.38" fill="#cab7b4"/>
<rect x="147.18" y="146.29" width="11.71" height="9.38" fill="#cab7b4"/>
<rect x="158.84" y="146.29" width="11.71" height="9.38" fill="#cab7b4"/>
<rect x="170.51" y="146.29" width="11.71" height="9.38" fill="#cab7b4"/>
<rect x="182.17" y="146.29" width="11.71" height="9.38" fill="#a2c5da"/>
<rect x="193.84" y="146.29" width="11.71" height="9.38" fill="#089fd4"/>
<rect x="205.50" y="146.29" width="11.71" height="9.38" fill="#56b8e0"/>
<rect x="217.17" y="146.29" width="11.71" height="9.38" fill="#56b8e0"/>
<rect x="228.83" y="146.29" width="11.71" height="9.38" fill="#a2c5da"/>
<rect x="240.50" y="146.29" width="11.71" height="9.38" fill="#cab7b4"/>
<rect x="252.16" y="146.29" width="11.71" height="9.38" fill="#cab7b4"/>
<rect x="263.83" y="146.29" width="11.71" height="9.38" fill="#56b8e0"/>
<rect x="275.49" y="146.29" width="11.71" height="9.38" fill="#a2c5da"/>
<rect x="287.16" y="146.29" width="11.71" height="9.38" fill="#a2c5da"/>
<rect x="298.82" y="146.29" width="11.71" height="9.38" fill="#a2c5da"/>
<rect x="310.49" y="146.29" width="11.71" height="9.38" fill="#f3ab92"/>
<rect x="322.15" y="146.29" width="11.71" height="9.38" fill="#a2c5da"/>
<rect x="333.82" y="146.29" width="11.71" height="9.38" fill="#f35d54"/>
<rect x="345.48" y="146.29" width="11.71" height="9.38" fill="#cab7b4"/>
<rect x="357.15" y="146.29" width="11.71" height="9.38" fill="#a2c5da"/>
<rect x="7.20" y="155.62" width="11.71" height="9.38" fill="#e7001c"/>
<rect x="18.86" y="155.62" width="11.71" height="9.38" fill="#f3ab92"/>
<rect x="30.53" y="155.62" width="11.71" height="9.38" fill="#f79074"/>
<rect x="42.20" y="155.62" width="11.71" height="9.38" fill="#f79074"/>
<rect x="53.86" y="155.62" width="11.71" height="9.38" fill="#f35d54"/>
<rect x="65.52" y="155.62" width="11.71" height="9.38" fill="#f3ab92"/>
<rect x="77.19" y="155.62" width="11.71" height="9.38" fill="#cab7b4"/>
<rect x="88.86" y="155.62" width="11.71" height="9.38" fill="#f3ab92"/>
<rect x="100.52" y="155.62" width="11.71" height="9.38" fill="#f3ab92"/>
<rect x="112.18" y="155.62" width="11.71" height="9.38" fill="#f3ab92"/>
<rect x="123.85" y="155.62" width="11.71" height="9.38" fill="#f79074"/>
<rect x="135.51" y="155.62" width="11.71" height="9.38" fill="#cab7b4"/>
<rect x="147.18" y="155.62" width="11.71" height="9.38" fill="#cab7b4"/>
<rect x="158.84" y="155.62" width="11.71" height="9.38" fill="#a2c5da"/>
<rect x="170.51" y="155.62" width="11.71" height="9.38" fill="#f3ab92"/>
<rect x="182.17" y="155.62" width="11.71" height="9.38" fill="#f3ab92"/>
<rect x="193.84" y="155.62" width="11.71" height="9.38" fill="#089fd4"/>
<rect x="205.50" y="155.62" width="11.71" height="9.38" fill="#a2c5da"/>
<rect x="217.17" y="155.62" width="11.71" height="9.38" fill="#a2c5da"/>
<rect x="228.83" y="155.62" width="11.71" height="9.38" fill="#a2c5da"/>
<rect x="240.50" y="155.62" width="11.71" height="9.38" fill="#a2c5da"/>
<rect x="252.16" y="155.62" width="11.71" height="9.38" fill="#56b8e0"/>
<rect x="263.83" y="155.62" width="11.71" height="9.38" fill="#a2c5da"/>
<rect x="275.49" y="155.62" width="11.71" height="9.38" fill="#56b8e0"/>
<rect x="287.16" y="155.62" width="11.71" height="9.38" fill="#cab7b4"/>
<rect x="298.82" y="155.62" width="11.71" height="9.38" fill="#a2c5da"/>
<rect x="310.49" y="155.62" width="11.71" height="9.38" fill="#f3ab92"/>
<rect x="322.15" y="155.62" width="11.71" height="9.38" fill="#a2c5da"/>
<rect x="333.82" y="155.62" width="11.71" height="9.38" fill="#a2c5da"/>
<rect x="345.48" y="155.62" width="11.71" height="9.38" fill="#cab7b4"/>
<rect x="357.15" y="155.62" width="11.71" height="9.38" fill="#f35d54"/>
<rect x="7.20" y="164.94" width="11.71" height="9.38" fill="#e7001c"/>
<rect x="18.86" y="164.94" width="11.71" height="9.38" fill="#f3ab92"/>
<rect x="30.53" y="164.94" width="11.71" height="9.38" fill="#f3ab92"/>
<rect x="42.20" y="164.94" width="11.71" height="9.38" fill="#f79074"/>
<rect x="53.86" y="164.94" width="11.71" height="9.38" fill="#cab7b4"/>
<rect x="65.52" y="164.94" width="11.71" height="9.38" fill="#a2c5da"/>
<rect x="77.19" y="164.94" width="11.71" height="9.38" fill="#f3ab92"/>
<rect x="88.86" y="164.94" width="11.71" height="9.38" fill="#a2c5da"/>
<rect x="100.52" y="164.94" width="11.71" height="9.38" fill="#cab7b4"/>
<rect x="112.18" y="164.94" width="11.71" height="9.38" fill="#a2c5da"/>
<rect x="123.85" y="164.94" width="11.71" height="9.38" fill="#cab7b4"/>
<rect x="135.51" y="164.94" width="11.71" height="9.38" fill="#a2c5da"/>
<rect x="147.18" y="164.94" width="11.71" height="9.38" fill="#a2c5da"/>
<rect x="158.84" y="164.94" width="11.71" height="9.38" fill="#a2c5da"/>
<rect x="170.51" y="164.94" width="11.71" height="9.38" fill="#a2c5da"/>
<rect x="182.17" y="164.94" width="11.71" height="9.38" fill="#56b8e0"/>
<rect x="193.84" y="164.94" width="11.71" height="9.38" fill="#089fd4"/>
<rect x="205.50" y="164.94" width="11.71" height="9.38" fill="#107abc"/>
<rect x="217.17" y="164.94" width="11.71" height="9.38" fill="#089fd4"/>
<rect x="228.83" y="164.94" width="11.71" height="9.38" fill="#089fd4"/>
<rect x="240.50" y="164.94" width="11.71" height="9.38" fill="#107abc"/>
<rect x="252.16" y="164.94" width="11.71" height="9.38" fill="#a2c5da"/>
<rect x="263.83" y="164.94" width="11.71" height="9.38" fill="#089fd4"/>
<rect x="275.49" y="164.94" width="11.71" height="9.38" fill="#107abc"/>
<rect x="287.16" y="164.94" width="11.71" height="9.38" fill="#089fd4"/>
<rect x="298.82" y="164.94" width="11.71" height="9.38" fill="#56b8e0"/>
<rect x="310.49" y="164.94" width="11.71" height="9.38" fill="#56b8e0"/>
<rect x="322.15" y="164.94" width="11.71" height="9.38" fill="#107abc"/>
<rect x="333.82" y="164.94" width="11.71" height="9.38" fill="#a2c5da"/>
<rect x="345.48" y="164.94" width="11.71" height="9.38" fill="#a2c5da"/>
<rect x="357.15" y="164.94" width="11.71" height="9.38" fill="#089fd4"/>
<rect x="7.20" y="174.27" width="11.71" height="9.38" fill="#e7001c"/>
<rect x="18.86" y="174.27" width="11.71" height="9.38" fill="#cab7b4"/>
<rect x="30.53" y="174.27" width="11.71" height="9.38" fill="#f3ab92"/>
<rect x="42.20" y="174.27" width="11.71" height="9.38" fill="#f79074"/>
<rect x="53.86" y="174.27" width="11.71" height="9.38" fill="#f3ab92"/>
<rect x="65.52" y="174.27" width="11.71" height="9.38" fill="#a2c5da"/>
<rect x="77.19" y="174.27" width="11.71" height="9.38" fill="#cab7b4"/>
<rect x="88.86" y="174.27" width="11.71" height="9.38" fill="#a2c5da"/>
<rect x="100.52" y="174.27" width="11.71" height="9.38" fill="#cab7b4"/>
<rect x="112.18" y="174.27" width="11.71" height="9.38" fill="#a2c5da"/>
<rect x="123.85" y="174.27" width="11.71" height="9.38" fill="#cab7b4"/>
<rect x="135.51" y="174.27" width="11.71" height="9.38" fill="#a2c5da"/>
<rect x="147.18" y="174.27" width="11.71" height="9.38" fill="#56b8e0"/>
<rect x="158.84" y="174.27" width="11.71" height="9.38" fill="#a2c5da"/>
<rect x="170.51" y="174.27" width="11.71" height="9.38" fill="#a2c5da"/>
<rect x="182.17" y="174.27" width="11.71" height="9.38" fill="#a2c5da"/>
<rect x="193.84" y="174.27" width="11.71" height="9.38" fill="#107abc"/>
<rect x="205.50" y="174.27" width="11.71" height="9.38" fill="#107abc"/>
<rect x="217.17" y="174.27" width="11.71" height="9.38" fill="#089fd4"/>
<rect x="228.83" y="174.27" width="11.71" height="9.38" fill="#089fd4"/>
<rect x="240.50" y="174.27" width="11.71" height="9.38" fill="#107abc"/>
<rect x="252.16" y="174.27" width="11.71" height="9.38" fill="#089fd4"/>
<rect x="263.83" y="174.27" width="11.71" height="9.38" fill="#107abc"/>
<rect x="275.49" y="174.27" width="11.71" height="9.38" fill="#107abc"/>
<rect x="287.16" y="174.27" width="11.71" height="9.38" fill="#a2c5da"/>
<rect x="298.82" y="174.27" width="11.71" height="9.38" fill="#a2c5da"/>
<rect x="310.49" y="174.27" width="11.71" height="9.38" fill="#089fd4"/>
<rect x="322.15" y="174.27" width="11.71" height="9.38" fill="#089fd4"/>
<rect x="333.82" y="174.27" width="11.71" height="9.38" fill="#a2c5da"/>
<rect x="345.48" y="174.27" width="11.71" height="9.38" fill="#56b8e0"/>
<rect x="357.15" y="174.27" width="11.71" height="9.38" fill="#089fd4"/>
<rect x="7.20" y="183.59" width="11.71" height="9.38" fill="#e7001c"/>
<rect x="18.86" y="183.59" width="11.71" height="9.38" fill="#f3ab92"/>
<rect x="30.53" y="183.59" width="11.71" height="9.38" fill="#f3ab92"/>
<rect x="42.20" y="183.59" width="11.71" height="9.38" fill="#f3ab92"/>
<rect x="53.86" y="183.59" width="11.71" height="9.38" fill="#f79074"/>
<rect x="65.52" y="183.59" width="11.71" height="9.38" fill="#cab7b4"/>
<rect x="77.19" y="183.59" width="11.71" height="9.38" fill="#cab7b4"/>
<rect x="88.86" y="183.59" width="11.71" height="9.38" fill="#a2c5da"/>
<rect x="100.52" y="183.59" width="11.71" height="9.38" fill="#cab7b4"/>
<rect x="112.18" y="183.59" width="11.71" height="9.38" fill="#cab7b4"/>
<rect x="123.85" y="183.59" width="11.71" height="9.38" fill="#cab7b4"/>
<rect x="135.51" y="183.59" width="11.71" height="9.38" fill="#a2c5da"/>
<rect x="147.18" y="183.59" width="11.71" height="9.38" fill="#a2c5da"/>
<rect x="158.84" y="183.59" width="11.71" height="9.38" fill="#a2c5da"/>
<rect x="170.51" y="183.59" width="11.71" height="9.38" fill="#a2c5da"/>
<rect x="182.17" y="183.59" width="11.71" height="9.38" fill="#a2c5da"/>
<rect x="193.84" y="183.59" width="11.71" height="9.38" fill="#a2c5da"/>
<rect x="205.50" y="183.59" width="11.71" height="9.38" fill="#56b8e0"/>
<rect x="217.17" y="183.59" width="11.71" height="9.38" fill="#56b8e0"/>
<rect x="228.83" y="183.59" width="11.71" height="9.38" fill="#089fd4"/>
<rect x="240.50" y="183.59" width="11.71" height="9.38" fill="#089fd4"/>
<rect x="252.16" y="183.59" width="11.71" height="9.38" fill="#089fd4"/>
<rect x="263.83" y="183.59" width="11.71" height="9.38" fill="#107abc"/>
<rect x="275.49" y="183.59" width="11.71" height="9.38" fill="#107abc"/>
<rect x="287.16" y="183.59" width="11.71" height="9.38" fill="#a2c5da"/>
<rect x="298.82" y="183.59" width="11.71" height="9.38" fill="#56b8e0"/>
<rect x="310.49" y="183.59" width="11.71" height="9.38" fill="#56b8e0"/>
<rect x="322.15" y="183.59" width="11.71" height="9.38" fill="#089fd4"/>
<rect x="333.82" y="183.59" width="11.71" height="9.38" fill="#089fd4"/>
<rect x="345.48" y="183.59" width="11.71" height="9.38" fill="#56b8e0"/>
<rect x="357.15" y="183.59" width="11.71" height="9.38" fill="#089fd4"/>
<rect x="7.20" y="192.92" width="11.71" height="9.38" fill="#e7001c"/>
<rect x="18.86" y="192.92" width="11.71" height="9.38" fill="#f79074"/>
<rect x="30.53" y="192.92" width="11.71" height="9.38" fill="#f3ab92"/>
<rect x="42.20" y="192.92" width="11.71" height="9.38" fill="#f3ab92"/>
<rect x="53.86" y="192.92" width="11.71" height="9.38" fill="#cab7b4"/>
<rect x="65.52" y="192.92" width="11.71" height="9.38" fill="#a2c5da"/>
<rect x="77.19" y="192.92" width="11.71" height="9.38" fill="#cab7b4"/>
<rect x="88.86" y="192.92" width="11.71" height="9.38" fill="#a2c5da"/>
<rect x="100.52" y="192.92" width="11.71" height="9.38" fill="#cab7b4"/>
<rect x="112.18" y="192.92" width="11.71" height="9.38" fill="#a2c5da"/>
<rect x="123.85" y="192.92" width="11.71" height="9.38" fill="#a2c5da"/>
<rect x="135.51" y="192.92" width="11.71" height="9.38" fill="#a2c5da"/>
<rect x="147.18" y="192.92" width="11.71" height="9.38" fill="#56b8e0"/>
<rect x="158.84" y="192.92" width="11.71" height="9.38" fill="#a2c5da"/>
<rect x="170.51" y="192.92" width="11.71" height="9.38" fill="#56b8e0"/>
<rect x="182.17" y="192.92" width="11.71" height="9.38" fill="#a2c5da"/>
<rect x="193.84" y="192.92" width="11.71" height="9.38" fill="#089fd4"/>
<rect x="205.50" y="192.92" width="11.71" height="9.38" fill="#107abc"/>
<rect x="217.17" y="192.92" width="11.71" height="9.38" fill="#089fd4"/>
<rect x="228.83" y="192.92" width="11.71" height="9.38" fill="#107abc"/>
<rect x="240.50" y="192.92" width="11.71" height="9.38" fill="#089fd4"/>
<rect x="252.16" y="192.92" width="11.71" height="9.38" fill="#089fd4"/>
<rect x="263.83" y="192.92" width="11.71" height="9.38" fill="#107abc"/>
<rect x="275.49" y="192.92" width="11.71" height="9.38" fill="#089fd4"/>
<rect x="287.16" y="192.92" width="11.71" height="9.38" fill="#107abc"/>
<rect x="298.82" y="192.92" width="11.71" height="9.38" fill="#56b8e0"/>
<rect x="310.49" y="192.92" width="11.71" height="9.38" fill="#089fd4"/>
<rect x="322.15" y="192.92" width="11.71" height="9.38" fill="#107abc"/>
<rect x="333.82" y="192.92" width="11.71" height="9.38" fill="#089fd4"/>
<rect x="345.48" y="192.92" width="11.71" height="9.38" fill="#107abc"/>
<rect x="357.15" y="192.92" width="11.71" height="9.38" fill="#107abc"/>
<rect x="7.20" y="202.25" width="11.71" height="9.38" fill="#e7001c"/>
<rect x="18.86" y="202.25" width="11.71" height="9.38" fill="#f3ab92"/>
<rect x="30.53" y="202.25" width="11.71" height="9.38" fill="#f79074"/>
<rect x="42.20" y="202.25" width="11.71" height="9.38" fill="#f3ab92"/>
<rect x="53.86" y="202.25" width="11.71" height="9.38" fill="#f3ab92"/>
<rect x="65.52" y="202.25" width="11.71" height="9.38" fill="#cab7b4"/>
<rect x="77.19" y="202.25" width="11.71" height="9.38" fill="#a2c5da"/>
<rect x="88.86" y="202.25" width="11.71" height="9.38" fill="#a2c5da"/>
<rect x="100.52" y="202.25" width="11.71" height="9.38" fill="#f3ab92"/>
<rect x="112.18" y="202.25" width="11.71" height="9.38" fill="#f3ab92"/>
<rect x="123.85" y="202.25" width="11.71" height="9.38" fill="#cab7b4"/>
<rect x="135.51" y="202.25" width="11.71" height="9.38" fill="#a2c5da"/>
<rect x="147.18" y="202.25" width="11.71" height="9.38" fill="#cab7b4"/>
<rect x="158.84" y="202.25" width="11.71" height="9.38" fill="#a2c5da"/>
<rect x="170.51" y="202.25" width="11.71" height="9.38" fill="#cab7b4"/>
<rect x="182.17" y="202.25" width="11.71" height="9.38" fill="#a2c5da"/>
<rect x="193.84" y="202.25" width="11.71" height="9.38" fill="#107abc"/>
<rect x="205.50" y="202.25" width="11.71" height="9.38" fill="#56b8e0"/>
<rect x="217.17" y="202.25" width="11.71" height="9.38" fill="#56b8e0"/>
<rect x="228.83" y="202.25" width="11.71" height="9.38" fill="#56b8e0"/>
<rect x="240.50" y="202.25" width="11.71" height="9.38" fill="#a2c5da"/>
<rect x="252.16" y="202.25" width="11.71" height="9.38" fill="#107abc"/>
<rect x="263.83" y="202.25" width="11.71" height="9.38" fill="#089fd4"/>
<rect x="275.49" y="202.25" width="11.71" height="9.38" fill="#089fd4"/>
<rect x="287.16" y="202.25" width="11.71" height="9.38" fill="#a2c5da"/>
<rect x="298.82" y="202.25" width="11.71" height="9.38" fill="#a2c5da"/>
<rect x="310.49" y="202.25" width="11.71" height="9.38" fill="#56b8e0"/>
<rect x="322.15" y="202.25" width="11.71" height="9.38" fill="#56b8e0"/>
<rect x="333.82" y="202.25" width="11.71" height="9.38" fill="#089fd4"/>
<rect x="345.48" y="202.25" width="11.71" height="9.38" fill="#089fd4"/>
<rect x="357.15" y="202.25" width="11.71" height="9.38" fill="#089fd4"/>
<rect x="7.20" y="211.57" width="11.71" height="9.38" fill="#e7001c"/>
<rect x="18.86" y="211.57" width="11.71" height="9.38" fill="#cab7b4"/>
<rect x="30.53" y="211.57" width="11.71" height="9.38" fill="#f79074"/>
<rect x="42.20" y="211.57" width="11.71" height="9.38" fill="#f3ab92"/>
<rect x="53.86" y="211.57" width="11.71" height="9.38" fill="#f3ab92"/>
<rect x="65.52" y="211.57" width="11.71" height="9.38" fill="#cab7b4"/>
<rect x="77.19" y="211.57" width="11.71" height="9.38" fill="#cab7b4"/>
<rect x="88.86" y="211.57" width="11.71" height="9.38" fill="#cab7b4"/>
<rect x="100.52" y="211.57" width="11.71" height="9.38" fill="#cab7b4"/>
<rect x="112.18" y="211.57" width="11.71" height="9.38" fill="#cab7b4"/>
<rect x="123.85" y="211.57" width="11.71" height="9.38" fill="#cab7b4"/>
<rect x="135.51" y="211.57" width="11.71" height="9.38" fill="#a2c5da"/>
<rect x="147.18" y="211.57" width="11.71" height="9.38" fill="#a2c5da"/>
<rect x="158.84" y="211.57" width="11.71" height="9.38" fill="#a2c5da"/>
<rect x="170.51" y="211.57" width="11.71" height="9.38" fill="#cab7b4"/>
<rect x="182.17" y="211.57" width="11.71" height="9.38" fill="#a2c5da"/>
<rect x="193.84" y="211.57" width="11.71" height="9.38" fill="#089fd4"/>
<rect x="205.50" y="211.57" width="11.71" height="9.38" fill="#56b8e0"/>
<rect x="217.17" y="211.57" width="11.71" height="9.38" fill="#56b8e0"/>
<rect x="228.83" y="211.57" width="11.71" height="9.38" fill="#089fd4"/>
<rect x="240.50" y="211.57" width="11.71" height="9.38" fill="#56b8e0"/>
<rect x="252.16" y="211.57" width="11.71" height="9.38" fill="#089fd4"/>
<rect x="263.83" y="211.57" width="11.71" height="9.38" fill="#089fd4"/>
<rect x="275.49" y="211.57" width="11.71" height="9.38" fill="#089fd4"/>
<rect x="287.16" y="211.57" width="11.71" height="9.38" fill="#a2c5da"/>
<rect x="298.82" y="211.57" width="11.71" height="9.38" fill="#a2c5da"/>
<rect x="310.49" y="211.57" width="11.71" height="9.38" fill="#56b8e0"/>
<rect x="322.15" y="211.57" width="11.71" height="9.38" fill="#a2c5da"/>
<rect x="333.82" y="211.57" width="11.71" height="9.38" fill="#089fd4"/>
<rect x="345.48" y="211.57" width="11.71" height="9.38" fill="#a2c5da"/>
<rect x="357.15" y="211.57" width="11.71" height="9.38" fill="#089fd4"/>
<rect x="7.20" y="220.90" width="11.71" height="9.38" fill="#e7001c"/>
<rect x="18.86" y="220.90" width="11.71" height="9.38" fill="#f79074"/>
<rect x="30.53" y="220.90" width="11.71" height="9.38" fill="#f35d54"/>
<rect x="42.20" y="220.90" width="11.71" height="9.38" fill="#f79074"/>
<rect x="53.86" y="220.90" width="11.71" height="9.38" fill="#f3ab92"/>
<rect x="65.52" y="220.90" width="11.71" height="9.38" fill="#f3ab92"/>
<rect x="77.19" y="220.90" width="11.71" height="9.38" fill="#f79074"/>
<rect x="88.86" y="220.90" width="11.71" height="9.38" fill="#cab7b4"/>
<rect x="100.52" y="220.90" width="11.71" height="9.38" fill="#f35d54"/>
<rect x="112.18" y="220.90" width="11.71" height="9.38" fill="#f3ab92"/>
<rect x="123.85" y="220.90" width="11.71" height="9.38" fill="#f3ab92"/>
<rect x="135.51" y="220.90" width="11.71" height="9.38" fill="#f79074"/>
<rect x="147.18" y="220.90" width="11.71" height="9.38" fill="#cab7b4"/>
<rect x="158.84" y="220.90" width="11.71" height="9.38" fill="#cab7b4"/>
<rect x="170.51" y="220.90" width="11.71" height="9.38" fill="#f79074"/>
<rect x="182.17" y="220.90" width="11.71" height="9.38" fill="#cab7b4"/>
<rect x="193.84" y="220.90" width="11.71" height="9.38" fill="#089fd4"/>
<rect x="205.50" y="220.90" width="11.71" height="9.38" fill="#cab7b4"/>
<rect x="217.17" y="220.90" width="11.71" height="9.38" fill="#cab7b4"/>
<rect x="228.83" y="220.90" width="11.71" height="9.38" fill="#cab7b4"/>
<rect x="240.50" y="220.90" width="11.71" height="9.38" fill="#a2c5da"/>
<rect x="252.16" y="220.90" width="11.71" height="9.38" fill="#a2c5da"/>
<rect x="263.83" y="220.90" width="11.71" height="9.38" fill="#cab7b4"/>
<rect x="275.49" y="220.90" width="11.71" height="9.38" fill="#56b8e0"/>
<rect x="287.16" y="220.90" width="11.71" height="9.38" fill="#f79074"/>
<rect x="298.82" y="220.90" width="11.71" height="9.38" fill="#f79074"/>
<rect x="310.49" y="220.90" width="11.71" height="9.38" fill="#f3ab92"/>
<rect x="322.15" y="220.90" width="11.71" height="9.38" fill="#a2c5da"/>
<rect x="333.82" y="220.90" width="11.71" height="9.38" fill="#cab7b4"/>
<rect x="345.48" y="220.90" width="11.71" height="9.38" fill="#cab7b4"/>
<rect x="357.15" y="220.90" width="11.71" height="9.38" fill="#a2c5da"/>
<rect x="7.20" y="230.22" width="11.71" height="9.38" fill="#e7001c"/>
<rect x="18.86" y="230.22" width="11.71" height="9.38" fill="#f79074"/>
<rect x="30.53" y="230.22" width="11.71" height="9.38" fill="#eb2336"/>
<rect x="42.20" y="230.22" width="11.71" height="9.38" fill="#f35d54"/>
<rect x="53.86" y="230.22" width="11.71" height="9.38" fill="#f79074"/>
<rect x="65.52" y="230.22" width="11.71" height="9.38" fill="#f35d54"/>
<rect x="77.19" y="230.22" width="11.71" height="9.38" fill="#f79074"/>
<rect x="88.86" y="230.22" width="11.71" height="9.38" fill="#f79074"/>
<rect x="100.52" y="230.22" width="11.71" height="9.38" fill="#f35d54"/>
<rect x="112.18" y="230.22" width="11.71" height="9.38" fill="#f35d54"/>
<rect x="123.85" y="230.22" width="11.71" height="9.38" fill="#f79074"/>
<rect x="135.51" y="230.22" width="11.71" height="9.38" fill="#f79074"/>
<rect x="147.18" y="230.22" width="11.71" height="9.38" fill="#f79074"/>
<rect x="158.84" y="230.22" width="11.71" height="9.38" fill="#f3ab92"/>
<rect x="170.51" y="230.22" width="11.71" height="9.38" fill="#f35d54"/>
<rect x="182.17" y="230.22" width="11.71" height="9.38" fill="#f79074"/>
<rect x="193.84" y="230.22" width="11.71" height="9.38" fill="#cab7b4"/>
<rect x="205.50" y="230.22" width="11.71" height="9.38" fill="#f79074"/>
<rect x="217.17" y="230.22" width="11.71" height="9.38" fill="#f3ab92"/>
<rect x="228.83" y="230.22" width="11.71" height="9.38" fill="#f3ab92"/>
<rect x="240.50" y="230.22" width="11.71" height="9.38" fill="#f79074"/>
<rect x="252.16" y="230.22" width="11.71" height="9.38" fill="#a2c5da"/>
<rect x="263.83" y="230.22" width="11.71" height="9.38" fill="#cab7b4"/>
<rect x="275.49" y="230.22" width="11.71" height="9.38" fill="#cab7b4"/>
<rect x="287.16" y="230.22" width="11.71" height="9.38" fill="#f35d54"/>
<rect x="298.82" y="230.22" width="11.71" height="9.38" fill="#f3ab92"/>
<rect x="310.49" y="230.22" width="11.71" height="9.38" fill="#f35d54"/>
<rect x="322.15" y="230.22" width="11.71" height="9.38" fill="#f79074"/>
<rect x="333.82" y="230.22" width="11.71" height="9.38" fill="#f79074"/>
<rect x="345.48" y="230.22" width="11.71" height="9.38" fill="#f3ab92"/>
<rect x="357.15" y="230.22" width="11.71" height="9.38" fill="#cab7b4"/>
<rect x="7.20" y="239.55" width="11.71" height="9.38" fill="#e7001c"/>
<rect x="18.86" y="239.55" width="11.71" height="9.38" fill="#f79074"/>
<rect x="30.53" y="239.55" width="11.71" height="9.38" fill="#f79074"/>
<rect x="42.20" y="239.55" width="11.71" height="9.38" fill="#f79074"/>
<rect x="53.86" y="239.55" width="11.71" height="9.38" fill="#f79074"/>
<rect x="65.52" y="239.55" width="11.71" height="9.38" fill="#cab7b4"/>
<rect x="77.19" y="239.55" width="11.71" height="9.38" fill="#f3ab92"/>
<rect x="88.86" y="239.55" width="11.71" height="9.38" fill="#f3ab92"/>
<rect x="100.52" y="239.55" width="11.71" height="9.38" fill="#eb2336"/>
<rect x="112.18" y="239.55" width="11.71" height="9.38" fill="#cab7b4"/>
<rect x="123.85" y="239.55" width="11.71" height="9.38" fill="#f79074"/>
<rect x="135.51" y="239.55" width="11.71" height="9.38" fill="#cab7b4"/>
<rect x="147.18" y="239.55" width="11.71" height="9.38" fill="#cab7b4"/>
<rect x="158.84" y="239.55" width="11.71" height="9.38" fill="#f3ab92"/>
<rect x="170.51" y="239.55" width="11.71" height="9.38" fill="#cab7b4"/>
<rect x="182.17" y="239.55" width="11.71" height="9.38" fill="#a2c5da"/>
<rect x="193.84" y="239.55" width="11.71" height="9.38" fill="#089fd4"/>
<rect x="205.50" y="239.55" width="11.71" height="9.38" fill="#56b8e0"/>
<rect x="217.17" y="239.55" width="11.71" height="9.38" fill="#56b8e0"/>
<rect x="228.83" y="239.55" width="11.71" height="9.38" fill="#a2c5da"/>
<rect x="240.50" y="239.55" width="11.71" height="9.38" fill="#56b8e0"/>
<rect x="252.16" y="239.55" width="11.71" height="9.38" fill="#cab7b4"/>
<rect x="263.83" y="239.55" width="11.71" height="9.38" fill="#f3ab92"/>
<rect x="275.49" y="239.55" width="11.71" height="9.38" fill="#a2c5da"/>
<rect x="287.16" y="239.55" width="11.71" height="9.38" fill="#089fd4"/>
<rect x="298.82" y="239.55" width="11.71" height="9.38" fill="#a2c5da"/>
<rect x="310.49" y="239.55" width="11.71" height="9.38" fill="#a2c5da"/>
<rect x="322.15" y="239.55" width="11.71" height="9.38" fill="#56b8e0"/>
<rect x="333.82" y="239.55" width="11.71" height="9.38" fill="#cab7b4"/>
<rect x="345.48" y="239.55" width="11.71" height="9.38" fill="#cab7b4"/>
<rect x="357.15" y="239.55" width="11.71" height="9.38" fill="#cab7b4"/>
<rect x="7.20" y="248.88" width="11.71" height="9.38" fill="#e7001c"/>
<rect x="18.86" y="248.88" width="11.71" height="9.38" fill="#cab7b4"/>
<rect x="30.53" y="248.88" width="11.71" height="9.38" fill="#f3ab92"/>
<rect x="42.20" y="248.88" width="11.71" height="9.38" fill="#f3ab92"/>
<rect x="53.86" y="248.88" width="11.71" height="9.38" fill="#cab7b4"/>
<rect x="65.52" y="248.88" width="11.71" height="9.38" fill="#a2c5da"/>
<rect x="77.19" y="248.88" width="11.71" height="9.38" fill="#f3ab92"/>
<rect x="88.86" y="248.88" width="11.71" height="9.38" fill="#cab7b4"/>
<rect x="100.52" y="248.88" width="11.71" height="9.38" fill="#cab7b4"/>
<rect x="112.18" y="248.88" width="11.71" height="9.38" fill="#f3ab92"/>
<rect x="123.85" y="248.88" width="11.71" height="9.38" fill="#cab7b4"/>
<rect x="135.51" y="248.88" width="11.71" height="9.38" fill="#a2c5da"/>
<rect x="147.18" y="248.88" width="11.71" height="9.38" fill="#a2c5da"/>
<rect x="158.84" y="248.88" width="11.71" height="9.38" fill="#a2c5da"/>
<rect x="170.51" y="248.88" width="11.71" height="9.38" fill="#a2c5da"/>
<rect x="182.17" y="248.88" width="11.71" height="9.38" fill="#a2c5da"/>
<rect x="193.84" y="248.88" width="11.71" height="9.38" fill="#089fd4"/>
<rect x="205.50" y="248.88" width="11.71" height="9.38" fill="#107abc"/>
<rect x="217.17" y="248.88" width="11.71" height="9.38" fill="#56b8e0"/>
<rect x="228.83" y="248.88" width="11.71" height="9.38" fill="#089fd4"/>
<rect x="240.50" y="248.88" width="11.71" height="9.38" fill="#107abc"/>
<rect x="252.16" y="248.88" width="11.71" height="9.38" fill="#56b8e0"/>
<rect x="263.83" y="248.88" width="11.71" height="9.38" fill="#089fd4"/>
<rect x="275.49" y="248.88" width="11.71" height="9.38" fill="#107abc"/>
<rect x="287.16" y="248.88" width="11.71" height="9.38" fill="#a2c5da"/>
<rect x="298.82" y="248.88" width="11.71" height="9.38" fill="#089fd4"/>
<rect x="310.49" y="248.88" width="11.71" height="9.38" fill="#089fd4"/>
<rect x="322.15" y="248.88" width="11.71" height="9.38" fill="#089fd4"/>
<rect x="333.82" y="248.88" width="11.71" height="9.38" fill="#a2c5da"/>
<rect x="345.48" y="248.88" width="11.71" height="9.38" fill="#a2c5da"/>
<rect x="357.15" y="248.88" width="11.71" height="9.38" fill="#089fd4"/>
<rect x="7.20" y="258.20" width="11.71" height="9.38" fill="#e7001c"/>
<rect x="18.86" y="258.20" width="11.71" height="9.38" fill="#f35d54"/>
<rect x="30.53" y="258.20" width="11.71" height="9.38" fill="#f79074"/>
<rect x="42.20" y="258.20" width="11.71" height="9.38" fill="#f3ab92"/>
<rect x="53.86" y="258.20" width="11.71" height="9.38" fill="#f3ab92"/>
<rect x="65.52" y="258.20" width="11.71" height="9.38" fill="#f3ab92"/>
<rect x="77.19" y="258.20" width="11.71" height="9.38" fill="#f79074"/>
<rect x="88.86" y="258.20" width="11.71" height="9.38" fill="#f3ab92"/>
<rect x="100.52" y="258.20" width="11.71" height="9.38" fill="#f79074"/>
<rect x="112.18" y="258.20" width="11.71" height="9.38" fill="#f3ab92"/>
<rect x="123.85" y="258.20" width="11.71" height="9.38" fill="#f79074"/>
<rect x="135.51" y="258.20" width="11.71" height="9.38" fill="#cab7b4"/>
<rect x="147.18" y="258.20" width="11.71" height="9.38" fill="#cab7b4"/>
<rect x="158.84" y="258.20" width="11.71" height="9.38" fill="#a2c5da"/>
<rect x="170.51" y="258.20" width="11.71" height="9.38" fill="#cab7b4"/>
<rect x="182.17" y="258.20" width="11.71" height="9.38" fill="#f3ab92"/>
<rect x="193.84" y="258.20" width="11.71" height="9.38" fill="#a2c5da"/>
<rect x="205.50" y="258.20" width="11.71" height="9.38" fill="#a2c5da"/>
<rect x="217.17" y="258.20" width="11.71" height="9.38" fill="#cab7b4"/>
<rect x="228.83" y="258.20" width="11.71" height="9.38" fill="#a2c5da"/>
<rect x="240.50" y="258.20" width="11.71" height="9.38" fill="#a2c5da"/>
<rect x="252.16" y="258.20" width="11.71" height="9.38" fill="#a2c5da"/>
<rect x="263.83" y="258.20" width="11.71" height="9.38" fill="#a2c5da"/>
<rect x="275.49" y="258.20" width="11.71" height="9.38" fill="#56b8e0"/>
<rect x="287.16" y="258.20" width="11.71" height="9.38" fill="#cab7b4"/>
<rect x="298.82" y="258.20" width="11.71" height="9.38" fill="#cab7b4"/>
<rect x="310.49" y="258.20" width="11.71" height="9.38" fill="#a2c5da"/>
<rect x="322.15" y="258.20" width="11.71" height="9.38" fill="#56b8e0"/>
<rect x="333.82" y="258.20" width="11.71" height="9.38" fill="#089fd4"/>
<rect x="345.48" y="258.20" width="11.71" height="9.38" fill="#56b8e0"/>
<rect x="357.15" y="258.20" width="11.71" height="9.38" fill="#107abc"/>
<rect x="7.20" y="267.53" width="11.71" height="9.38" fill="#e7001c"/>
<rect x="18.86" y="267.53" width="11.71" height="9.38" fill="#f35d54"/>
<rect x="30.53" y="267.53" width="11.71" height="9.38" fill="#f79074"/>
<rect x="42.20" y="267.53" width="11.71" height="9.38" fill="#f79074"/>
<rect x="53.86" y="267.53" width="11.71" height="9.38" fill="#f79074"/>
<rect x="65.52" y="267.53" width="11.71" height="9.38" fill="#f79074"/>
<rect x="77.19" y="267.53" width="11.71" height="9.38" fill="#f3ab92"/>
<rect x="88.86" y="267.53" width="11.71" height="9.38" fill="#f79074"/>
<rect x="100.52" y="267.53" width="11.71" height="9.38" fill="#f3ab92"/>
<rect x="112.18" y="267.53" width="11.71" height="9.38" fill="#f3ab92"/>
<rect x="123.85" y="267.53" width="11.71" height="9.38" fill="#cab7b4"/>
<rect x="135.51" y="267.53" width="11.71" height="9.38" fill="#f79074"/>
<rect x="147.18" y="267.53" width="11.71" height="9.38" fill="#f3ab92"/>
<rect x="158.84" y="267.53" width="11.71" height="9.38" fill="#f3ab92"/>
<rect x="170.51" y="267.53" width="11.71" height="9.38" fill="#cab7b4"/>
<rect x="182.17" y="267.53" width="11.71" height="9.38" fill="#f3ab92"/>
<rect x="193.84" y="267.53" width="11.71" height="9.38" fill="#f79074"/>
<rect x="205.50" y="267.53" width="11.71" height="9.38" fill="#cab7b4"/>
<rect x="217.17" y="267.53" width="11.71" height="9.38" fill="#cab7b4"/>
<rect x="228.83" y="267.53" width="11.71" height="9.38" fill="#a2c5da"/>
<rect x="240.50" y="267.53" width="11.71" height="9.38" fill="#cab7b4"/>
<rect x="252.16" y="267.53" width="11.71" height="9.38" fill="#a2c5da"/>
<rect x="263.83" y="267.53" width="11.71" height="9.38" fill="#cab7b4"/>
<rect x="275.49" y="267.53" width="11.71" height="9.38" fill="#cab7b4"/>
<rect x="287.16" y="267.53" width="11.71" height="9.38" fill="#a2c5da"/>
<rect x="298.82" y="267.53" width="11.71" height="9.38" fill="#a2c5da"/>
<rect x="310.49" y="267.53" width="11.71" height="9.38" fill="#a2c5da"/>
<rect x="322.15" y="267.53" width="11.71" height="9.38" fill="#a2c5da"/>
<rect x="333.82" y="267.53" width="11.71" height="9.38" fill="#a2c5da"/>
<rect x="345.48" y="267.53" width="11.71" height="9.38" fill="#56b8e0"/>
<rect x="357.15" y="267.53" width="11.71" height="9.38" fill="#a2c5da"/>
<rect x="7.20" y="276.85" width="11.71" height="9.38" fill="#e7001c"/>
<rect x="18.86" y="276.85" width="11.71" height="9.38" fill="#f3ab92"/>
<rect x="30.53" y="276.85" width="11.71" height="9.38" fill="#f79074"/>
<rect x="42.20" y="276.85" width="11.71" height="9.38" fill="#f35d54"/>
<rect x="53.86" y="276.85" width="11.71" height="9.38" fill="#f3ab92"/>
<rect x="65.52" y="276.85" width="11.71" height="9.38" fill="#f79074"/>
<rect x="77.19" y="276.85" width="11.71" height="9.38" fill="#f3ab92"/>
<rect x="88.86" y="276.85" width="11.71" height="9.38" fill="#f3ab92"/>
<rect x="100.52" y="276.85" width="11.71" height="9.38" fill="#f3ab92"/>
<rect x="112.18" y="276.85" width="11.71" height="9.38" fill="#f3ab92"/>
<rect x="123.85" y="276.85" width="11.71" height="9.38" fill="#f3ab92"/>
<rect x="135.51" y="276.85" width="11.71" height="9.38" fill="#f3ab92"/>
<rect x="147.18" y="276.85" width="11.71" height="9.38" fill="#cab7b4"/>
<rect x="158.84" y="276.85" width="11.71" height="9.38" fill="#f3ab92"/>
<rect x="170.51" y="276.85" width="11.71" height="9.38" fill="#f79074"/>
<rect x="182.17" y="276.85" width="11.71" height="9.38" fill="#f3ab92"/>
<rect x="193.84" y="276.85" width="11.71" height="9.38" fill="#cab7b4"/>
<rect x="205.50" y="276.85" width="11.71" height="9.38" fill="#cab7b4"/>
<rect x="217.17" y="276.85" width="11.71" height="9.38" fill="#cab7b4"/>
<rect x="228.83" y="276.85" width="11.71" height="9.38" fill="#cab7b4"/>
<rect x="240.50" y="276.85" width="11.71" height="9.38" fill="#a2c5da"/>
<rect x="252.16" y="276.85" width="11.71" height="9.38" fill="#a2c5da"/>
<rect x="263.83" y="276.85" width="11.71" height="9.38" fill="#a2c5da"/>
<rect x="275.49" y="276.85" width="11.71" height="9.38" fill="#a2c5da"/>
<rect x="287.16" y="276.85" width="11.71" height="9.38" fill="#a2c5da"/>
<rect x="298.82" y="276.85" width="11.71" height="9.38" fill="#a2c5da"/>
<rect x="310.49" y="276.85" width="11.71" height="9.38" fill="#cab7b4"/>
<rect x="322.15" y="276.85" width="11.71" height="9.38" fill="#a2c5da"/>
<rect x="333.82" y="276.85" width="11.71" height="9.38" fill="#cab7b4"/>
<rect x="345.48" y="276.85" width="11.71" height="9.38" fill="#cab7b4"/>
<rect x="357.15" y="276.85" width="11.71" height="9.38" fill="#089fd4"/>
<rect x="7.20" y="286.18" width="11.71" height="9.38" fill="#e7001c"/>
<rect x="18.86" y="286.18" width="11.71" height="9.38" fill="#e7001c"/>
<rect x="30.53" y="286.18" width="11.71" height="9.38" fill="#e7001c"/>
<rect x="42.20" y="286.18" width="11.71" height="9.38" fill="#f3ab92"/>
<rect x="53.86" y="286.18" width="11.71" height="9.38" fill="#f35d54"/>
<rect x="65.52" y="286.18" width="11.71" height="9.38" fill="#eb2336"/>
<rect x="77.19" y="286.18" width="11.71" height="9.38" fill="#f79074"/>
<rect x="88.86" y="286.18" width="11.71" height="9.38" fill="#f35d54"/>
<rect x="100.52" y="286.18" width="11.71" height="9.38" fill="#f35d54"/>
<rect x="112.18" y="286.18" width="11.71" height="9.38" fill="#f35d54"/>
<rect x="123.85" y="286.18" width="11.71" height="9.38" fill="#f79074"/>
<rect x="135.51" y="286.18" width="11.71" height="9.38" fill="#f79074"/>
<rect x="147.18" y="286.18" width="11.71" height="9.38" fill="#f35d54"/>
<rect x="158.84" y="286.18" width="11.71" height="9.38" fill="#f79074"/>
<rect x="170.51" y="286.18" width="11.71" height="9.38" fill="#f35d54"/>
<rect x="182.17" y="286.18" width="11.71" height="9.38" fill="#f79074"/>
<rect x="193.84" y="286.18" width="11.71" height="9.38" fill="#f35d54"/>
<rect x="205.50" y="286.18" width="11.71" height="9.38" fill="#f35d54"/>
<rect x="217.17" y="286.18" width="11.71" height="9.38" fill="#f3ab92"/>
<rect x="228.83" y="286.18" width="11.71" height="9.38" fill="#f3ab92"/>
<rect x="240.50" y="286.18" width="11.71" height="9.38" fill="#f35d54"/>
<rect x="252.16" y="286.18" width="11.71" height="9.38" fill="#cab7b4"/>
<rect x="263.83" y="286.18" width="11.71" height="9.38" fill="#f3ab92"/>
<rect x="275.49" y="286.18" width="11.71" height="9.38" fill="#f79074"/>
<rect x="287.16" y="286.18" width="11.71" height="9.38" fill="#e7001c"/>
<rect x="298.82" y="286.18" width="11.71" height="9.38" fill="#f79074"/>
<rect x="310.49" y="286.18" width="11.71" height="9.38" fill="#f79074"/>
<rect x="322.15" y="286.18" width="11.71" height="9.38" fill="#f35d54"/>
<rect x="333.82" y="286.18" width="11.71" height="9.38" fill="#a2c5da"/>
<rect x="345.48" y="286.18" width="11.71" height="9.38" fill="#cab7b4"/>
<rect x="357.15" y="286.18" width="11.71" height="9.38" fill="#f79074"/>
</g>
<path d="M7.50 6.40V295.51M18.50 6.40V295.51M30.50 6.40V295.51M42.50 6.40V295.51M53.50 6.40V295.51M65.50 6.40V295.51M77.50 6.40V295.51M88.50 6.40V295.51M100.50 6.40V295.51M112.50 6.40V295.51M123.50 6.40V295.51M135.50 6.40V295.51M147.50 6.40V295.51M158.50 6.40V295.51M170.50 6.40V295.51M182.50 6.40V295.51M193.50 6.40V295.51M205.50 6.40V295.51M217.50 6.40V295.51M228.50 6.40V295.51M240.50 6.40V295.51M252.50 6.40V295.51M263.50 6.40V295.51M275.50 6.40V295.51M287.50 6.40V295.51M298.50 6.40V295.51M310.50 6.40V295.51M322.50 6.40V295.51M333.50 6.40V295.51M345.50 6.40V295.51M357.50 6.40V295.51M368.50 6.40V295.51M7.20 6.50H368.81M7.20 15.50H368.81M7.20 25.50H368.81M7.20 34.50H368.81M7.20 43.50H368.81M7.20 53.50H368.81M7.20 62.50H368.81M7.20 71.50H368.81M7.20 81.50H368.81M7.20 90.50H368.81M7.20 99.50H368.81M7.20 108.50H368.81M7.20 118.50H368.81M7.20 127.50H368.81M7.20 136.50H368.81M7.20 146.50H368.81M7.20 155.50H368.81M7.20 164.50H368.81M7.20 174.50H368.81M7.20 183.50H368.81M7.20 192.50H368.81M7.20 202.50H368.81M7.20 211.50H368.81M7.20 220.50H368.81M7.20 230.50H368.81M7.20 239.50H368.81M7.20 248.50H368.81M7.20 258.50H368.81M7.20 267.50H368.81M7.20 276.50H368.81M7.20 286.50H368.81M7.20 295.50H368.81" stroke="#141414" stroke-width="1.00" fill="none"/>
<text x="0" y="0" font-size="9.20" fill="#262626" transform="translate(371.90 14.46) scale(0.998 1)">GMCSF</text>
<text x="0" y="0" font-size="9.20" fill="#262626" transform="translate(371.90 23.79) scale(0.998 1)">GMCSF-IFNG</text>
<text x="0" y="0" font-size="9.20" fill="#262626" transform="translate(371.90 33.12) scale(0.998 1)">GMCSF-IFNG-IL17A</text>
<text x="0" y="0" font-size="9.20" fill="#262626" transform="translate(371.90 42.44) scale(0.998 1)">GMCSF-IFNG-IL17A-IP10</text>
<text x="0" y="0" font-size="9.20" fill="#262626" transform="translate(371.90 51.77) scale(0.998 1)">GMCSF-IFNG-IL17A-IP10-TNFB</text>
<text x="0" y="0" font-size="9.20" fill="#262626" transform="translate(371.90 61.09) scale(0.998 1)">GMCSF-IFNG-IL17A-TNFB</text>
<text x="0" y="0" font-size="9.20" fill="#262626" transform="translate(371.90 70.42) scale(0.998 1)">GMCSF-IFNG-IP10</text>
<text x="0" y="0" font-size="9.20" fill="#262626" transform="translate(371.90 79.75) scale(0.998 1)">GMCSF-IFNG-IP10-TNFB</text>
<text x="0" y="0" font-size="9.20" fill="#262626" transform="translate(371.90 89.07) scale(0.998 1)">GMCSF-IFNG-TNFB</text>
<text x="0" y="0" font-size="9.20" fill="#262626" transform="translate(371.90 98.40) scale(0.998 1)">GMCSF-IL17A</text>
<text x="0" y="0" font-size="9.20" fill="#262626" transform="translate(371.90 107.72) scale(0.998 1)">GMCSF-IL17A-IP10</text>
<text x="0" y="0" font-size="9.20" fill="#262626" transform="translate(371.90 117.05) scale(0.998 1)">GMCSF-IL17A-IP10-TNFB</text>
<text x="0" y="0" font-size="9.20" fill="#262626" transform="translate(371.90 126.38) scale(0.998 1)">GMCSF-IL17A-TNFB</text>
<text x="0" y="0" font-size="9.20" fill="#262626" transform="translate(371.90 135.70) scale(0.998 1)">GMCSF-IP10</text>
<text x="0" y="0" font-size="9.20" fill="#262626" transform="translate(371.90 145.03) scale(0.998 1)">GMCSF-IP10-TNFB</text>
<text x="0" y="0" font-size="9.20" fill="#262626" transform="translate(371.90 154.35) scale(0.998 1)">GMCSF-TNFB</text>
<text x="0" y="0" font-size="9.20" fill="#262626" transform="translate(371.90 163.68) scale(0.998 1)">IFNG</text>
<text x="0" y="0" font-size="9.20" fill="#262626" transform="translate(371.90 173.01) scale(0.998 1)">IFNG-IL17A</text>
<text x="0" y="0" font-size="9.20" fill="#262626" transform="translate(371.90 182.33) scale(0.998 1)">IFNG-IL17A-IP10</text>
<text x="0" y="0" font-size="9.20" fill="#262626" transform="translate(371.90 191.66) scale(0.998 1)">IFNG-IL17A-IP10-TNFB</text>
<text x="0" y="0" font-size="9.20" fill="#262626" transform="translate(371.90 200.98) scale(0.998 1)">IFNG-IL17A-TNFB</text>
<text x="0" y="0" font-size="9.20" fill="#262626" transform="translate(371.90 210.31) scale(0.998 1)">IFNG-IP10</text>
<text x="0" y="0" font-size="9.20" fill="#262626" transform="translate(371.90 219.64) scale(0.998 1)">IFNG-IP10-TNFB</text>
<text x="0" y="0" font-size="9.20" fill="#262626" transform="translate(371.90 228.96) scale(0.998 1)">IFNG-TNFB</text>
<text x="0" y="0" font-size="9.20" fill="#262626" transform="translate(371.90 238.29) scale(0.998 1)">IL17A</text>
<text x="0" y="0" font-size="9.20" fill="#262626" transform="translate(371.90 247.61) scale(0.998 1)">IL17A-IP10</text>
<text x="0" y="0" font-size="9.20" fill="#262626" transform="translate(371.90 256.94) scale(0.998 1)">IL17A-IP10-TNFB</text>
<text x="0" y="0" font-size="9.20" fill="#262626" transform="translate(371.90 266.26) scale(0.998 1)">IL17A-TNFB</text>
<text x="0" y="0" font-size="9.20" fill="#262626" transform="translate(371.90 275.59) scale(0.998 1)">IP10</text>
<text x="0" y="0" font-size="9.20" fill="#262626" transform="translate(371.90 284.92) scale(0.998 1)">IP10-TNFB</text>
<text x="0" y="0" font-size="9.20" fill="#262626" transform="translate(371.90 294.24) scale(0.998 1)">TNFB</text>
<text x="0" y="0" font-size="9.40" fill="#262626" text-anchor="end" transform="translate(16.23 298.60) rotate(-90) scale(0.790 1)">MED</text>
<text x="0" y="0" font-size="9.40" fill="#262626" text-anchor="end" transform="translate(27.90 298.60) rotate(-90) scale(0.790 1)">MED-COVN</text>
<text x="0" y="0" font-size="9.40" fill="#262626" text-anchor="end" transform="translate(39.56 298.60) rotate(-90) scale(0.790 1)">MED-COVR</text>
<text x="0" y="0" font-size="9.40" fill="#262626" text-anchor="end" transform="translate(51.23 298.60) rotate(-90) scale(0.790 1)">MED-NSPX</text>
<text x="0" y="0" font-size="9.40" fill="#262626" text-anchor="end" transform="translate(62.89 298.60) rotate(-90) scale(0.790 1)">MED-SCOV2</text>
<text x="0" y="0" font-size="9.40" fill="#262626" text-anchor="end" transform="translate(74.56 298.60) rotate(-90) scale(0.790 1)">MED-COVN-COVR</text>
<text x="0" y="0" font-size="9.40" fill="#262626" text-anchor="end" transform="translate(86.22 298.60) rotate(-90) scale(0.790 1)">MED-COVN-NSPX</text>
<text x="0" y="0" font-size="9.40" fill="#262626" text-anchor="end" transform="translate(97.89 298.60) rotate(-90) scale(0.790 1)">MED-COVN-SCOV2</text>
<text x="0" y="0" font-size="9.40" fill="#262626" text-anchor="end" transform="translate(109.55 298.60) rotate(-90) scale(0.790 1)">MED-COVR-NSPX</text>
<text x="0" y="0" font-size="9.40" fill="#262626" text-anchor="end" transform="translate(121.22 298.60) rotate(-90) scale(0.790 1)">MED-COVR-SCOV2</text>
<text x="0" y="0" font-size="9.40" fill="#262626" text-anchor="end" transform="translate(132.88 298.60) rotate(-90) scale(0.790 1)">MED-NSPX-SCOV2</text>
<text x="0" y="0" font-size="9.40" fill="#262626" text-anchor="end" transform="translate(144.55 298.60) rotate(-90) scale(0.790 1)">MED-COVN-COVR-NSPX</text>
<text x="0" y="0" font-size="9.40" fill="#262626" text-anchor="end" transform="translate(156.21 298.60) rotate(-90) scale(0.790 1)">MED-COVN-COVR-SCOV2</text>
<text x="0" y="0" font-size="9.40" fill="#262626" text-anchor="end" transform="translate(167.88 298.60) rotate(-90) scale(0.790 1)">MED-COVN-NSPX-SCOV2</text>
<text x="0" y="0" font-size="9.40" fill="#262626" text-anchor="end" transform="translate(179.54 298.60) rotate(-90) scale(0.790 1)">MED-COVR-NSPX-SCOV2</text>
<text x="0" y="0" font-size="9.40" fill="#262626" text-anchor="end" transform="translate(191.21 298.60) rotate(-90) scale(0.790 1)">MED-COVN-COVR-NSPX-SCOV2</text>
<text x="0" y="0" font-size="9.40" fill="#262626" text-anchor="end" transform="translate(202.87 298.60) rotate(-90) scale(0.790 1)">COVN</text>
<text x="0" y="0" font-size="9.40" fill="#262626" text-anchor="end" transform="translate(214.54 298.60) rotate(-90) scale(0.790 1)">COVN-COVR</text>
<text x="0" y="0" font-size="9.40" fill="#262626" text-anchor="end" transform="translate(226.20 298.60) rotate(-90) scale(0.790 1)">COVN-COVR-NSPX</text>
<text x="0" y="0" font-size="9.40" fill="#262626" text-anchor="end" transform="translate(237.87 298.60) rotate(-90) scale(0.790 1)">COVN-COVR-NSPX-SCOV2</text>
<text x="0" y="0" font-size="9.40" fill="#262626" text-anchor="end" transform="translate(249.53 298.60) rotate(-90) scale(0.790 1)">COVN-COVR-SCOV2</text>
<text x="0" y="0" font-size="9.40" fill="#262626" text-anchor="end" transform="translate(261.20 298.60) rotate(-90) scale(0.790 1)">COVN-NSPX</text>
<text x="0" y="0" font-size="9.40" fill="#262626" text-anchor="end" transform="translate(272.86 298.60) rotate(-90) scale(0.790 1)">COVN-NSPX-SCOV2</text>
<text x="0" y="0" font-size="9.40" fill="#262626" text-anchor="end" transform="translate(284.53 298.60) rotate(-90) scale(0.790 1)">COVN-SCOV2</text>
<text x="0" y="0" font-size="9.40" fill="#262626" text-anchor="end" transform="translate(296.19 298.60) rotate(-90) scale(0.790 1)">COVR</text>
<text x="0" y="0" font-size="9.40" fill="#262626" text-anchor="end" transform="translate(307.86 298.60) rotate(-90) scale(0.790 1)">COVR-NSPX</text>
<text x="0" y="0" font-size="9.40" fill="#262626" text-anchor="end" transform="translate(319.52 298.60) rotate(-90) scale(0.790 1)">COVR-NSPX-SCOV2</text>
<text x="0" y="0" font-size="9.40" fill="#262626" text-anchor="end" transform="translate(331.19 298.60) rotate(-90) scale(0.790 1)">COVR-SCOV2</text>
<text x="0" y="0" font-size="9.40" fill="#262626" text-anchor="end" transform="translate(342.85 298.60) rotate(-90) scale(0.790 1)">NSPX</text>
<text x="0" y="0" font-size="9.40" fill="#262626" text-anchor="end" transform="translate(354.52 298.60) rotate(-90) scale(0.790 1)">NSPX-SCOV2</text>
<text x="0" y="0" font-size="9.40" fill="#262626" text-anchor="end" transform="translate(366.18 298.60) rotate(-90) scale(0.790 1)">SCOV2</text>
<rect x="513.00" y="6.35" width="9.40" height="11.65" fill="#1279bb"/>
<rect x="513.00" y="17.95" width="9.40" height="11.65" fill="#0a9cd0"/>
<rect x="513.00" y="29.55" width="9.40" height="11.65" fill="#50b4dc"/>
<rect x="513.00" y="41.15" width="9.40" height="11.65" fill="#98bcd2"/>
<rect x="513.00" y="52.75" width="9.40" height="11.65" fill="#c8b4b2"/>
<rect x="513.00" y="64.35" width="9.40" height="11.65" fill="#f2a890"/>
<rect x="513.00" y="75.95" width="9.40" height="11.65" fill="#f88c6e"/>
<rect x="513.00" y="87.55" width="9.40" height="11.65" fill="#f2584e"/>
<rect x="513.00" y="99.15" width="9.40" height="11.65" fill="#ea2032"/>
<rect x="513.00" y="110.75" width="9.40" height="11.65" fill="#e6001e"/>
<text x="0" y="0" font-size="8.60" fill="#262626" transform="translate(527.60 9.90) scale(1.000 1)">1</text>
<text x="0" y="0" font-size="8.60" fill="#262626" transform="translate(527.60 21.62) scale(1.000 1)">0.98</text>
<text x="0" y="0" font-size="8.60" fill="#262626" transform="translate(527.60 33.34) scale(1.000 1)">0.96</text>
<text x="0" y="0" font-size="8.60" fill="#262626" transform="translate(527.60 45.06) scale(1.000 1)">0.94</text>
<text x="0" y="0" font-size="8.60" fill="#262626" transform="translate(527.60 56.78) scale(1.000 1)">0.92</text>
<text x="0" y="0" font-size="8.60" fill="#262626" transform="translate(527.60 68.50) scale(1.000 1)">0.9</text>
<text x="0" y="0" font-size="8.60" fill="#262626" transform="translate(527.60 80.22) scale(1.000 1)">0.88</text>
<text x="0" y="0" font-size="8.60" fill="#262626" transform="translate(527.60 91.94) scale(1.000 1)">0.86</text>
<text x="0" y="0" font-size="8.60" fill="#262626" transform="translate(527.60 103.66) scale(1.000 1)">0.84</text>
<text x="0" y="0" font-size="8.60" fill="#262626" transform="translate(527.60 115.38) scale(1.000 1)">0.82</text>
<text x="0" y="0" font-size="8.60" fill="#262626" transform="translate(527.60 127.10) scale(1.000 1)">0.8</text>
</svg></body></html>
